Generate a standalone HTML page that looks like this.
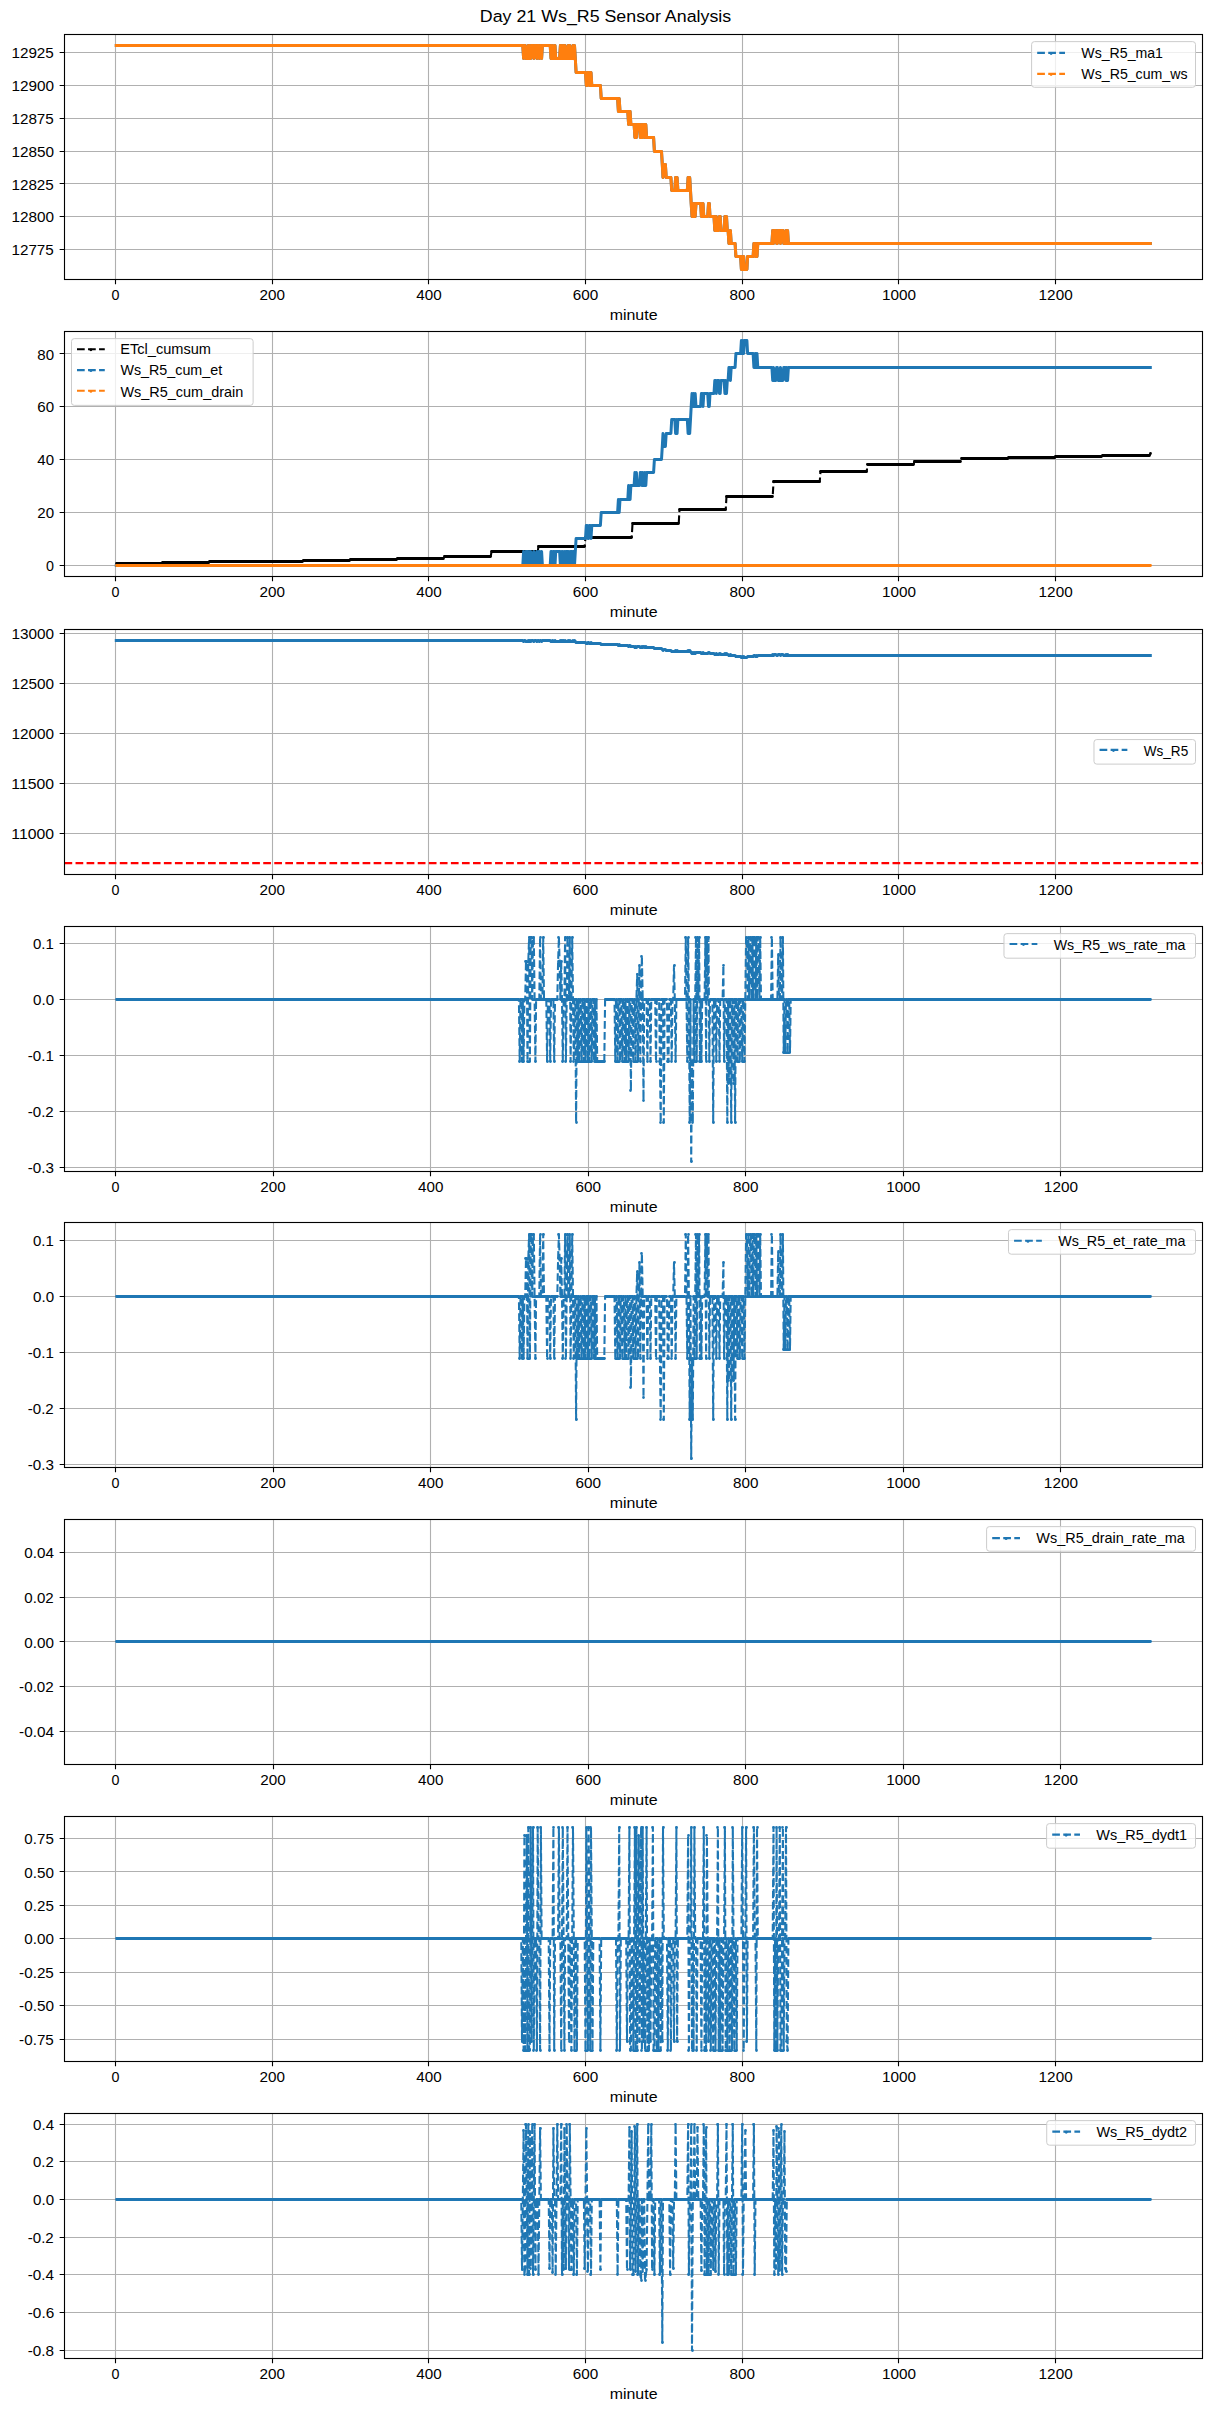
<!DOCTYPE html>
<html><head><meta charset="utf-8"><style>
html,body{margin:0;padding:0;background:#fff;}
svg{display:block;}
text{font-family:"Liberation Sans",sans-serif;}
</style></head><body>
<svg width="1211" height="2411" viewBox="0 0 1211 2411">
<rect width="1211" height="2411" fill="#fff"/>
<text x="479.80" y="22.30" font-size="16.9" textLength="251.39" lengthAdjust="spacingAndGlyphs" fill="#000">Day 21 Ws_R5 Sensor Analysis</text>
<clipPath id="c0"><rect x="64.5" y="34.5" width="1138.0" height="245.0"/></clipPath>
<path d="M115.5 34.5V279.5M272.5 34.5V279.5M428.5 34.5V279.5M585.5 34.5V279.5M742.5 34.5V279.5M898.5 34.5V279.5M1055.5 34.5V279.5M64.5 52.5H1202.5M64.5 85.5H1202.5M64.5 118.5H1202.5M64.5 151.5H1202.5M64.5 183.5H1202.5M64.5 216.5H1202.5M64.5 249.5H1202.5" stroke="#b0b0b0" stroke-width="1.11" fill="none"/>
<path d="M116.3 45.5L522.8 45.5 523.6 58.5 524.4 45.5 525.2 45.5 526.0 58.5 527.5 58.5 528.3 45.5 529.1 58.5 529.9 45.5 530.7 58.5 531.5 45.5 533.0 45.5 533.8 58.5 534.6 45.5 536.1 45.5 536.9 58.5 537.7 45.5 538.5 45.5 539.3 58.5 540.1 45.5 540.9 45.5 541.6 58.5 542.4 45.5 550.2 45.5 551.0 58.5 551.8 58.5 552.6 45.5 553.4 58.5 554.2 58.5 555.0 45.5 555.7 58.5 559.6 58.5 560.4 45.5 561.2 58.5 562.0 45.5 562.8 58.5 563.6 45.5 564.4 58.5 565.1 45.5 565.9 58.5 567.5 58.5 568.3 45.5 569.0 58.5 569.8 45.5 570.6 58.5 572.2 58.5 573.0 45.5 573.8 58.5 574.5 45.5 575.3 58.5 576.1 72.5 585.5 72.5 586.3 85.5 587.1 85.5 587.9 72.5 588.6 72.5 589.4 85.5 590.2 85.5 591.0 72.5 591.8 85.5 600.4 85.5 601.2 98.5 617.6 98.5 618.4 111.5 619.2 98.5 620.0 111.5 627.8 111.5 628.6 124.5 629.4 111.5 630.1 111.5 630.9 124.5 634.1 124.5 634.9 137.5 635.6 124.5 636.4 137.5 637.2 124.5 639.5 124.5 640.3 137.5 641.1 137.5 641.9 124.5 642.7 137.5 643.5 124.5 644.2 124.5 645.0 137.5 645.8 124.5 646.6 137.5 653.6 137.5 654.4 151.5 661.5 151.5 662.3 164.5 663.0 177.5 663.8 164.5 665.4 164.5 666.2 177.5 670.9 177.5 671.7 190.5 674.8 190.5 675.6 177.5 676.4 190.5 677.1 177.5 677.9 190.5 687.3 190.5 688.1 177.5 688.9 190.5 689.7 177.5 690.5 190.5 691.2 203.5 692.0 216.5 692.8 203.5 693.6 216.5 694.4 203.5 695.2 216.5 696.0 203.5 700.6 203.5 701.4 216.5 702.2 216.5 703.0 203.5 703.8 216.5 707.7 216.5 708.5 203.5 709.3 203.5 710.0 216.5 714.0 216.5 714.8 230.5 715.5 230.5 716.3 216.5 717.1 230.5 718.7 230.5 719.5 216.5 720.2 216.5 721.0 230.5 724.1 230.5 724.9 216.5 725.7 230.5 726.5 216.5 727.3 230.5 728.1 230.5 728.9 243.5 729.6 243.5 730.4 230.5 731.2 243.5 735.1 243.5 735.9 256.5 740.6 256.5 741.4 269.5 742.2 256.5 743.0 269.5 743.7 256.5 744.5 269.5 746.9 269.5 747.6 256.5 753.1 256.5 753.9 243.5 754.7 243.5 755.5 256.5 756.3 243.5 757.0 256.5 757.8 243.5 771.9 243.5 772.7 230.5 773.5 243.5 774.3 230.5 775.9 230.5 776.6 243.5 777.4 243.5 778.2 230.5 779.8 230.5 780.5 243.5 781.3 230.5 782.9 230.5 783.7 243.5 785.2 243.5 786.0 230.5 786.8 243.5 787.6 230.5 788.4 243.5 1150.3 243.5" stroke="#1f77b4" stroke-width="3.0" stroke-linejoin="round" stroke-linecap="square" fill="none" clip-path="url(#c0)"/>
<path d="M116.3 45.5L522.8 45.5 523.6 58.5 524.4 45.5 525.2 45.5 526.0 58.5 527.5 58.5 528.3 45.5 529.1 58.5 529.9 45.5 530.7 58.5 531.5 45.5 533.0 45.5 533.8 58.5 534.6 45.5 536.1 45.5 536.9 58.5 537.7 45.5 538.5 45.5 539.3 58.5 540.1 45.5 540.9 45.5 541.6 58.5 542.4 45.5 550.2 45.5 551.0 58.5 551.8 58.5 552.6 45.5 553.4 58.5 554.2 58.5 555.0 45.5 555.7 58.5 559.6 58.5 560.4 45.5 561.2 58.5 562.0 45.5 562.8 58.5 563.6 45.5 564.4 58.5 565.1 45.5 565.9 58.5 567.5 58.5 568.3 45.5 569.0 58.5 569.8 45.5 570.6 58.5 572.2 58.5 573.0 45.5 573.8 58.5 574.5 45.5 575.3 58.5 576.1 72.5 585.5 72.5 586.3 85.5 587.1 85.5 587.9 72.5 588.6 72.5 589.4 85.5 590.2 85.5 591.0 72.5 591.8 85.5 600.4 85.5 601.2 98.5 617.6 98.5 618.4 111.5 619.2 98.5 620.0 111.5 627.8 111.5 628.6 124.5 629.4 111.5 630.1 111.5 630.9 124.5 634.1 124.5 634.9 137.5 635.6 124.5 636.4 137.5 637.2 124.5 639.5 124.5 640.3 137.5 641.1 137.5 641.9 124.5 642.7 137.5 643.5 124.5 644.2 124.5 645.0 137.5 645.8 124.5 646.6 137.5 653.6 137.5 654.4 151.5 661.5 151.5 662.3 164.5 663.0 177.5 663.8 164.5 665.4 164.5 666.2 177.5 670.9 177.5 671.7 190.5 674.8 190.5 675.6 177.5 676.4 190.5 677.1 177.5 677.9 190.5 687.3 190.5 688.1 177.5 688.9 190.5 689.7 177.5 690.5 190.5 691.2 203.5 692.0 216.5 692.8 203.5 693.6 216.5 694.4 203.5 695.2 216.5 696.0 203.5 700.6 203.5 701.4 216.5 702.2 216.5 703.0 203.5 703.8 216.5 707.7 216.5 708.5 203.5 709.3 203.5 710.0 216.5 714.0 216.5 714.8 230.5 715.5 230.5 716.3 216.5 717.1 230.5 718.7 230.5 719.5 216.5 720.2 216.5 721.0 230.5 724.1 230.5 724.9 216.5 725.7 230.5 726.5 216.5 727.3 230.5 728.1 230.5 728.9 243.5 729.6 243.5 730.4 230.5 731.2 243.5 735.1 243.5 735.9 256.5 740.6 256.5 741.4 269.5 742.2 256.5 743.0 269.5 743.7 256.5 744.5 269.5 746.9 269.5 747.6 256.5 753.1 256.5 753.9 243.5 754.7 243.5 755.5 256.5 756.3 243.5 757.0 256.5 757.8 243.5 771.9 243.5 772.7 230.5 773.5 243.5 774.3 230.5 775.9 230.5 776.6 243.5 777.4 243.5 778.2 230.5 779.8 230.5 780.5 243.5 781.3 230.5 782.9 230.5 783.7 243.5 785.2 243.5 786.0 230.5 786.8 243.5 787.6 230.5 788.4 243.5 1150.3 243.5" stroke="#ff7f0e" stroke-width="3.0" stroke-linejoin="round" stroke-linecap="square" fill="none" clip-path="url(#c0)"/>
<rect x="64.5" y="34.5" width="1138.0" height="245.0" fill="none" stroke="#000" stroke-width="1.11"/>
<path d="M115.5 279.5v4.86M272.5 279.5v4.86M428.5 279.5v4.86M585.5 279.5v4.86M742.5 279.5v4.86M898.5 279.5v4.86M1055.5 279.5v4.86M64.5 52.5h-4.86M64.5 85.5h-4.86M64.5 118.5h-4.86M64.5 151.5h-4.86M64.5 183.5h-4.86M64.5 216.5h-4.86M64.5 249.5h-4.86" stroke="#000" stroke-width="1.11" fill="none"/>
<text x="111.62" y="299.90" font-size="14.1" textLength="7.96" lengthAdjust="spacingAndGlyphs" fill="#000">0</text>
<text x="259.50" y="299.90" font-size="14.1" textLength="25.44" lengthAdjust="spacingAndGlyphs" fill="#000">200</text>
<text x="416.25" y="299.90" font-size="14.1" textLength="25.36" lengthAdjust="spacingAndGlyphs" fill="#000">400</text>
<text x="572.80" y="299.90" font-size="14.1" textLength="25.48" lengthAdjust="spacingAndGlyphs" fill="#000">600</text>
<text x="729.55" y="299.90" font-size="14.1" textLength="25.39" lengthAdjust="spacingAndGlyphs" fill="#000">800</text>
<text x="881.97" y="299.90" font-size="14.1" textLength="34.01" lengthAdjust="spacingAndGlyphs" fill="#000">1000</text>
<text x="1038.64" y="299.90" font-size="14.1" textLength="34.01" lengthAdjust="spacingAndGlyphs" fill="#000">1200</text>
<text x="11.43" y="57.85" font-size="14.1" textLength="42.40" lengthAdjust="spacingAndGlyphs" fill="#000">12925</text>
<text x="11.43" y="90.77" font-size="14.1" textLength="42.64" lengthAdjust="spacingAndGlyphs" fill="#000">12900</text>
<text x="11.43" y="123.70" font-size="14.1" textLength="42.40" lengthAdjust="spacingAndGlyphs" fill="#000">12875</text>
<text x="11.43" y="156.62" font-size="14.1" textLength="42.64" lengthAdjust="spacingAndGlyphs" fill="#000">12850</text>
<text x="11.43" y="189.55" font-size="14.1" textLength="42.40" lengthAdjust="spacingAndGlyphs" fill="#000">12825</text>
<text x="11.43" y="222.47" font-size="14.1" textLength="42.64" lengthAdjust="spacingAndGlyphs" fill="#000">12800</text>
<text x="11.43" y="255.40" font-size="14.1" textLength="42.40" lengthAdjust="spacingAndGlyphs" fill="#000">12775</text>
<text x="609.69" y="319.80" font-size="14.1" textLength="47.81" lengthAdjust="spacingAndGlyphs" fill="#000">minute</text>
<rect x="1031.60" y="41.64" width="163.90" height="45.64" rx="2.8" ry="2.8" fill="#fff" fill-opacity="0.8" stroke="#cccccc" stroke-width="1.0"/>
<path d="M1037.20 52.90H1064.98" stroke="#1f77b4" stroke-width="2.083" stroke-dasharray="7.71 3.33" fill="none"/>
<circle cx="1051.09" cy="53.50" r="1.4" fill="#1f77b4"/>
<text x="1081.36" y="57.90" font-size="14.1" textLength="81.59" lengthAdjust="spacingAndGlyphs" fill="#000">Ws_R5_ma1</text>
<path d="M1037.20 73.90H1064.98" stroke="#ff7f0e" stroke-width="2.083" stroke-dasharray="7.71 3.33" fill="none"/>
<circle cx="1051.09" cy="74.50" r="1.4" fill="#ff7f0e"/>
<text x="1081.36" y="78.99" font-size="14.1" textLength="106.15" lengthAdjust="spacingAndGlyphs" fill="#000">Ws_R5_cum_ws</text>
<clipPath id="c1"><rect x="64.5" y="331.5" width="1138.0" height="245.0"/></clipPath>
<path d="M115.5 331.5V576.5M272.5 331.5V576.5M428.5 331.5V576.5M585.5 331.5V576.5M742.5 331.5V576.5M898.5 331.5V576.5M1055.5 331.5V576.5M64.5 353.5H1202.5M64.5 406.5H1202.5M64.5 459.5H1202.5M64.5 512.5H1202.5M64.5 565.5H1202.5" stroke="#b0b0b0" stroke-width="1.11" fill="none"/>
<path d="M116.3 563.4L161.7 563.4 162.5 562.8 208.7 562.8 209.5 561.7 255.7 561.7 256.5 561.1 302.7 561.1 303.5 560.1 349.7 560.1 350.5 559.2 396.7 559.2 397.5 558.3 443.7 558.3 444.5 556.2 490.7 556.2 491.5 552.0 537.7 552.0 538.5 546.1 584.7 546.1 585.5 537.2 631.7 537.2 632.5 524.0 678.7 524.0 679.5 509.7 725.7 509.7 726.5 496.5 772.7 496.5 773.5 482.0 819.7 482.0 820.5 471.7 866.7 471.7 867.5 464.0 913.7 464.0 914.5 461.1 960.7 461.1 961.5 458.7 1007.7 458.7 1008.5 458.0 1054.7 458.0 1055.5 456.4 1101.7 456.4 1102.5 455.1 1149.5 455.1 1150.3 453.7" stroke="#000000" stroke-width="2.083" stroke-dasharray="7.71 3.33" fill="none" stroke-linejoin="round" clip-path="url(#c1)"/>
<path d="M116.5 563.5H161.5M162.5 562.5H208.5M209.5 561.5H255.5M256.5 561.5H302.5M303.5 560.5H349.5M350.5 559.5H396.5M397.5 558.5H443.5M444.5 556.5H490.5M491.5 551.5H537.5M538.5 546.5H584.5M585.5 537.5H631.5M632.5 523.5H678.5M679.5 509.5H725.5M726.5 496.5H772.5M773.5 481.5H819.5M820.5 471.5H866.5M867.5 464.5H913.5M914.5 461.5H960.5M961.5 458.5H1007.5M1008.5 457.5H1054.5M1055.5 456.5H1101.5M1102.5 455.5H1149.5M1150.5 453.5h0" stroke="#000000" stroke-width="2.8" stroke-linecap="round" fill="none" clip-path="url(#c1)"/>
<path d="M116.3 565.5L522.8 565.5 523.6 551.5 524.4 565.5 525.2 565.5 526.0 551.5 527.5 551.5 528.3 565.5 529.1 551.5 529.9 565.5 530.7 551.5 531.5 565.5 533.0 565.5 533.8 551.5 534.6 565.5 536.1 565.5 536.9 551.5 537.7 565.5 538.5 565.5 539.3 551.5 540.1 565.5 540.9 565.5 541.6 551.5 542.4 565.5 550.2 565.5 551.0 551.5 551.8 551.5 552.6 565.5 553.4 551.5 554.2 551.5 555.0 565.5 555.7 551.5 559.6 551.5 560.4 565.5 561.2 551.5 562.0 565.5 562.8 551.5 563.6 565.5 564.4 551.5 565.1 565.5 565.9 551.5 567.5 551.5 568.3 565.5 569.0 551.5 569.8 565.5 570.6 551.5 572.2 551.5 573.0 565.5 573.8 551.5 574.5 565.5 575.3 551.5 576.1 538.5 585.5 538.5 586.3 525.5 587.1 525.5 587.9 538.5 588.6 538.5 589.4 525.5 590.2 525.5 591.0 538.5 591.8 525.5 600.4 525.5 601.2 512.5 617.6 512.5 618.4 499.5 619.2 512.5 620.0 499.5 627.8 499.5 628.6 485.5 629.4 499.5 630.1 499.5 630.9 485.5 634.1 485.5 634.9 472.5 635.6 485.5 636.4 472.5 637.2 485.5 639.5 485.5 640.3 472.5 641.1 472.5 641.9 485.5 642.7 472.5 643.5 485.5 644.2 485.5 645.0 472.5 645.8 485.5 646.6 472.5 653.6 472.5 654.4 459.5 661.5 459.5 662.3 446.5 663.0 433.5 663.8 446.5 665.4 446.5 666.2 433.5 670.9 433.5 671.7 419.5 674.8 419.5 675.6 433.5 676.4 419.5 677.1 433.5 677.9 419.5 687.3 419.5 688.1 433.5 688.9 419.5 689.7 433.5 690.5 419.5 691.2 406.5 692.0 393.5 692.8 406.5 693.6 393.5 694.4 406.5 695.2 393.5 696.0 406.5 700.6 406.5 701.4 393.5 702.2 393.5 703.0 406.5 703.8 393.5 707.7 393.5 708.5 406.5 709.3 406.5 710.0 393.5 714.0 393.5 714.8 380.5 715.5 380.5 716.3 393.5 717.1 380.5 718.7 380.5 719.5 393.5 720.2 393.5 721.0 380.5 724.1 380.5 724.9 393.5 725.7 380.5 726.5 393.5 727.3 380.5 728.1 380.5 728.9 367.5 729.6 367.5 730.4 380.5 731.2 367.5 735.1 367.5 735.9 353.5 740.6 353.5 741.4 340.5 742.2 353.5 743.0 340.5 743.7 353.5 744.5 340.5 746.9 340.5 747.6 353.5 753.1 353.5 753.9 367.5 754.7 367.5 755.5 353.5 756.3 367.5 757.0 353.5 757.8 367.5 771.9 367.5 772.7 380.5 773.5 367.5 774.3 380.5 775.9 380.5 776.6 367.5 777.4 367.5 778.2 380.5 779.8 380.5 780.5 367.5 781.3 380.5 782.9 380.5 783.7 367.5 785.2 367.5 786.0 380.5 786.8 367.5 787.6 380.5 788.4 367.5 1150.3 367.5" stroke="#1f77b4" stroke-width="3.0" stroke-linejoin="round" stroke-linecap="square" fill="none" clip-path="url(#c1)"/>
<path d="M116.3 565.2L1150.3 565.2" stroke="#ff7f0e" stroke-width="2.083" stroke-dasharray="7.71 3.33" fill="none" stroke-linejoin="round" clip-path="url(#c1)"/>
<path d="M116.5 565.5H1150.5" stroke="#ff7f0e" stroke-width="2.8" stroke-linecap="round" fill="none" clip-path="url(#c1)"/>
<rect x="64.5" y="331.5" width="1138.0" height="245.0" fill="none" stroke="#000" stroke-width="1.11"/>
<path d="M115.5 576.5v4.86M272.5 576.5v4.86M428.5 576.5v4.86M585.5 576.5v4.86M742.5 576.5v4.86M898.5 576.5v4.86M1055.5 576.5v4.86M64.5 353.5h-4.86M64.5 406.5h-4.86M64.5 459.5h-4.86M64.5 512.5h-4.86M64.5 565.5h-4.86" stroke="#000" stroke-width="1.11" fill="none"/>
<text x="111.62" y="596.90" font-size="14.1" textLength="7.96" lengthAdjust="spacingAndGlyphs" fill="#000">0</text>
<text x="259.50" y="596.90" font-size="14.1" textLength="25.44" lengthAdjust="spacingAndGlyphs" fill="#000">200</text>
<text x="416.25" y="596.90" font-size="14.1" textLength="25.36" lengthAdjust="spacingAndGlyphs" fill="#000">400</text>
<text x="572.80" y="596.90" font-size="14.1" textLength="25.48" lengthAdjust="spacingAndGlyphs" fill="#000">600</text>
<text x="729.55" y="596.90" font-size="14.1" textLength="25.39" lengthAdjust="spacingAndGlyphs" fill="#000">800</text>
<text x="881.97" y="596.90" font-size="14.1" textLength="34.01" lengthAdjust="spacingAndGlyphs" fill="#000">1000</text>
<text x="1038.64" y="596.90" font-size="14.1" textLength="34.01" lengthAdjust="spacingAndGlyphs" fill="#000">1200</text>
<text x="37.34" y="359.52" font-size="14.1" textLength="16.76" lengthAdjust="spacingAndGlyphs" fill="#000">80</text>
<text x="37.26" y="412.33" font-size="14.1" textLength="16.84" lengthAdjust="spacingAndGlyphs" fill="#000">60</text>
<text x="37.37" y="465.14" font-size="14.1" textLength="16.73" lengthAdjust="spacingAndGlyphs" fill="#000">40</text>
<text x="37.29" y="517.95" font-size="14.1" textLength="16.81" lengthAdjust="spacingAndGlyphs" fill="#000">20</text>
<text x="46.07" y="570.76" font-size="14.1" textLength="7.96" lengthAdjust="spacingAndGlyphs" fill="#000">0</text>
<text x="609.69" y="616.80" font-size="14.1" textLength="47.81" lengthAdjust="spacingAndGlyphs" fill="#000">minute</text>
<rect x="71.50" y="338.64" width="181.62" height="66.72" rx="2.8" ry="2.8" fill="#fff" fill-opacity="0.8" stroke="#cccccc" stroke-width="1.0"/>
<path d="M77.00 349.20H104.78" stroke="#000000" stroke-width="2.083" stroke-dasharray="7.71 3.33" fill="none"/>
<circle cx="90.89" cy="349.80" r="1.4" fill="#000000"/>
<text x="120.25" y="354.35" font-size="14.1" textLength="90.71" lengthAdjust="spacingAndGlyphs" fill="#000">ETcl_cumsum</text>
<path d="M77.00 370.10H104.78" stroke="#1f77b4" stroke-width="2.083" stroke-dasharray="7.71 3.33" fill="none"/>
<circle cx="90.89" cy="370.70" r="1.4" fill="#1f77b4"/>
<text x="120.48" y="375.44" font-size="14.1" textLength="101.64" lengthAdjust="spacingAndGlyphs" fill="#000">Ws_R5_cum_et</text>
<path d="M77.00 390.80H104.78" stroke="#ff7f0e" stroke-width="2.083" stroke-dasharray="7.71 3.33" fill="none"/>
<circle cx="90.89" cy="391.40" r="1.4" fill="#ff7f0e"/>
<text x="120.48" y="396.52" font-size="14.1" textLength="122.85" lengthAdjust="spacingAndGlyphs" fill="#000">Ws_R5_cum_drain</text>
<clipPath id="c2"><rect x="64.5" y="629.5" width="1138.0" height="245.0"/></clipPath>
<path d="M115.5 629.5V874.5M272.5 629.5V874.5M428.5 629.5V874.5M585.5 629.5V874.5M742.5 629.5V874.5M898.5 629.5V874.5M1055.5 629.5V874.5M64.5 633.5H1202.5M64.5 683.5H1202.5M64.5 733.5H1202.5M64.5 783.5H1202.5M64.5 833.5H1202.5" stroke="#b0b0b0" stroke-width="1.11" fill="none"/>
<path d="M116.3 640.5L522.8 640.5 523.6 641.5 524.4 640.5 525.2 640.5 526.0 641.5 527.5 641.5 528.3 640.5 529.1 641.5 529.9 640.5 530.7 641.5 531.5 640.5 533.0 640.5 533.8 641.5 534.6 640.5 536.1 640.5 536.9 641.5 537.7 640.5 538.5 640.5 539.3 641.5 540.1 640.5 540.9 640.5 541.6 641.5 542.4 640.5 550.2 640.5 551.0 641.5 551.8 641.5 552.6 640.5 553.4 641.5 554.2 641.5 555.0 640.5 555.7 641.5 559.6 641.5 560.4 640.5 561.2 641.5 562.0 640.5 562.8 641.5 563.6 640.5 564.4 641.5 565.1 640.5 565.9 641.5 567.5 641.5 568.3 640.5 569.0 641.5 569.8 640.5 570.6 641.5 572.2 641.5 573.0 640.5 573.8 641.5 574.5 640.5 575.3 641.5 576.1 642.5 585.5 642.5 586.3 643.5 587.1 643.5 587.9 642.5 588.6 642.5 589.4 643.5 590.2 643.5 591.0 642.5 591.8 643.5 600.4 643.5 601.2 644.5 617.6 644.5 618.4 645.5 619.2 644.5 620.0 645.5 627.8 645.5 628.6 646.5 629.4 645.5 630.1 645.5 630.9 646.5 634.1 646.5 634.9 647.5 635.6 646.5 636.4 647.5 637.2 646.5 639.5 646.5 640.3 647.5 641.1 647.5 641.9 646.5 642.7 647.5 643.5 646.5 644.2 646.5 645.0 647.5 645.8 646.5 646.6 647.5 653.6 647.5 654.4 648.5 661.5 648.5 662.3 649.5 663.0 650.5 663.8 649.5 665.4 649.5 666.2 650.5 670.9 650.5 671.7 651.5 674.8 651.5 675.6 650.5 676.4 651.5 677.1 650.5 677.9 651.5 687.3 651.5 688.1 650.5 688.9 651.5 689.7 650.5 690.5 651.5 691.2 652.5 692.0 653.5 692.8 652.5 693.6 653.5 694.4 652.5 695.2 653.5 696.0 652.5 700.6 652.5 701.4 653.5 702.2 653.5 703.0 652.5 703.8 653.5 707.7 653.5 708.5 652.5 709.3 652.5 710.0 653.5 714.0 653.5 714.8 654.5 715.5 654.5 716.3 653.5 717.1 654.5 718.7 654.5 719.5 653.5 720.2 653.5 721.0 654.5 724.1 654.5 724.9 653.5 725.7 654.5 726.5 653.5 727.3 654.5 728.1 654.5 728.9 655.5 729.6 655.5 730.4 654.5 731.2 655.5 735.1 655.5 735.9 656.5 740.6 656.5 741.4 657.5 742.2 656.5 743.0 657.5 743.7 656.5 744.5 657.5 746.9 657.5 747.6 656.5 753.1 656.5 753.9 655.5 754.7 655.5 755.5 656.5 756.3 655.5 757.0 656.5 757.8 655.5 771.9 655.5 772.7 654.5 773.5 655.5 774.3 654.5 775.9 654.5 776.6 655.5 777.4 655.5 778.2 654.5 779.8 654.5 780.5 655.5 781.3 654.5 782.9 654.5 783.7 655.5 785.2 655.5 786.0 654.5 786.8 655.5 787.6 654.5 788.4 655.5 1150.3 655.5" stroke="#1f77b4" stroke-width="3.0" stroke-linejoin="round" stroke-linecap="square" fill="none" clip-path="url(#c2)"/>
<path d="M64.5 863.11H1202.5" stroke="#ff0000" stroke-width="2.083" stroke-dasharray="7.71 3.33" fill="none" clip-path="url(#c2)"/>
<rect x="64.5" y="629.5" width="1138.0" height="245.0" fill="none" stroke="#000" stroke-width="1.11"/>
<path d="M115.5 874.5v4.86M272.5 874.5v4.86M428.5 874.5v4.86M585.5 874.5v4.86M742.5 874.5v4.86M898.5 874.5v4.86M1055.5 874.5v4.86M64.5 633.5h-4.86M64.5 683.5h-4.86M64.5 733.5h-4.86M64.5 783.5h-4.86M64.5 833.5h-4.86" stroke="#000" stroke-width="1.11" fill="none"/>
<text x="111.62" y="894.90" font-size="14.1" textLength="7.96" lengthAdjust="spacingAndGlyphs" fill="#000">0</text>
<text x="259.50" y="894.90" font-size="14.1" textLength="25.44" lengthAdjust="spacingAndGlyphs" fill="#000">200</text>
<text x="416.25" y="894.90" font-size="14.1" textLength="25.36" lengthAdjust="spacingAndGlyphs" fill="#000">400</text>
<text x="572.80" y="894.90" font-size="14.1" textLength="25.48" lengthAdjust="spacingAndGlyphs" fill="#000">600</text>
<text x="729.55" y="894.90" font-size="14.1" textLength="25.39" lengthAdjust="spacingAndGlyphs" fill="#000">800</text>
<text x="881.97" y="894.90" font-size="14.1" textLength="34.01" lengthAdjust="spacingAndGlyphs" fill="#000">1000</text>
<text x="1038.64" y="894.90" font-size="14.1" textLength="34.01" lengthAdjust="spacingAndGlyphs" fill="#000">1200</text>
<text x="11.43" y="638.96" font-size="14.1" textLength="42.64" lengthAdjust="spacingAndGlyphs" fill="#000">13000</text>
<text x="11.43" y="688.97" font-size="14.1" textLength="42.64" lengthAdjust="spacingAndGlyphs" fill="#000">12500</text>
<text x="11.43" y="738.98" font-size="14.1" textLength="42.64" lengthAdjust="spacingAndGlyphs" fill="#000">12000</text>
<text x="11.39" y="788.99" font-size="14.1" textLength="42.70" lengthAdjust="spacingAndGlyphs" fill="#000">11500</text>
<text x="11.39" y="839.00" font-size="14.1" textLength="42.70" lengthAdjust="spacingAndGlyphs" fill="#000">11000</text>
<text x="609.69" y="914.80" font-size="14.1" textLength="47.81" lengthAdjust="spacingAndGlyphs" fill="#000">minute</text>
<rect x="1093.97" y="739.57" width="101.53" height="24.55" rx="2.8" ry="2.8" fill="#fff" fill-opacity="0.8" stroke="#cccccc" stroke-width="1.0"/>
<path d="M1099.57 749.90H1127.35" stroke="#1f77b4" stroke-width="2.083" stroke-dasharray="7.71 3.33" fill="none"/>
<circle cx="1113.46" cy="750.50" r="1.4" fill="#1f77b4"/>
<text x="1143.73" y="755.83" font-size="14.1" textLength="44.48" lengthAdjust="spacingAndGlyphs" fill="#000">Ws_R5</text>
<clipPath id="c3"><rect x="64.5" y="926.5" width="1138.0" height="245.0"/></clipPath>
<path d="M115.5 926.5V1171.5M273.5 926.5V1171.5M430.5 926.5V1171.5M588.5 926.5V1171.5M745.5 926.5V1171.5M903.5 926.5V1171.5M1060.5 926.5V1171.5M64.5 943.5H1202.5M64.5 999.5H1202.5M64.5 1055.5H1202.5M64.5 1111.5H1202.5M64.5 1167.5H1202.5" stroke="#b0b0b0" stroke-width="1.11" fill="none"/>
<path d="M116.3 999.3L518.9 999.3 519.7 1061.4 520.5 999.3 521.3 999.3 522.0 1061.4 522.8 999.3 523.6 1061.4 524.4 999.3 525.2 999.3 526.0 961.8 526.8 961.8 527.5 1061.4 528.3 961.8 529.1 937.2 529.9 1061.4 530.7 937.2 531.5 937.2 532.2 999.3 533.0 937.2 533.8 937.2 534.6 999.3 535.4 1061.4 536.1 999.3 539.3 999.3 540.1 937.2 540.9 999.3 542.4 999.3 543.2 937.2 544.0 999.3 546.3 999.3 547.1 1061.4 547.9 999.3 549.5 999.3 550.2 1061.4 551.0 999.3 553.4 999.3 554.2 1061.4 555.0 999.3 557.3 999.3 558.1 961.8 558.9 937.2 559.6 961.8 560.4 999.3 561.2 961.8 562.0 999.3 562.8 1061.4 563.6 999.3 564.4 999.3 565.1 937.2 565.9 1061.4 566.7 999.3 567.5 937.2 568.3 999.3 569.0 999.3 569.8 937.2 570.6 1061.4 571.4 999.3 572.2 937.2 573.0 999.3 573.8 1061.4 574.5 999.3 575.3 999.3 576.1 1122.4 576.9 999.3 577.7 1061.4 578.5 999.3 579.2 1061.4 580.0 999.3 580.8 999.3 581.6 1061.4 582.4 999.3 583.1 999.3 583.9 1061.4 584.7 999.3 585.5 1061.4 586.3 999.3 587.1 999.3 587.9 1061.4 588.6 999.3 589.4 1061.4 590.2 999.3 591.0 999.3 591.8 1061.4 592.5 999.3 593.3 999.3 594.1 1061.4 594.9 999.3 595.7 1061.4 596.5 999.3 597.2 1061.4 604.3 1061.4 605.1 999.3 614.5 999.3 615.3 1061.4 616.0 999.3 616.8 999.3 617.6 1061.4 618.4 999.3 619.2 999.3 620.0 1061.4 620.8 999.3 621.5 999.3 622.3 1061.4 623.1 999.3 623.9 999.3 624.7 1061.4 625.5 999.3 626.2 1061.4 627.0 999.3 627.8 999.3 628.6 1061.4 629.4 999.3 630.1 999.3 630.9 1090.5 631.7 999.3 632.5 999.3 633.3 1061.4 634.1 999.3 634.9 999.3 635.6 1061.4 636.4 999.3 637.2 974.1 638.0 1061.4 638.8 999.3 639.5 965.7 640.3 1061.4 641.1 999.3 641.9 956.2 642.7 999.3 643.5 1100.0 644.2 999.3 646.6 999.3 647.4 1061.4 648.2 999.3 649.7 999.3 650.5 1061.4 651.3 999.3 655.2 999.3 656.0 1061.4 656.8 999.3 659.1 999.3 659.9 1061.4 660.7 1122.4 661.5 999.3 663.0 999.3 663.8 1122.4 664.6 999.3 667.0 999.3 667.8 1061.4 668.5 1061.4 669.3 999.3 670.9 999.3 671.7 1061.4 672.5 999.3 673.2 999.3 674.0 965.7 674.8 999.3 675.6 1061.4 676.4 999.3 685.0 999.3 685.8 937.2 686.5 999.3 687.3 1061.4 688.1 937.2 688.9 999.3 689.7 1122.4 690.5 999.3 691.2 1161.6 692.0 1061.4 692.8 1122.4 693.6 999.3 694.4 1061.4 695.2 999.3 696.0 937.2 696.7 1061.4 697.5 937.2 698.3 999.3 699.1 937.2 699.9 1061.4 700.6 999.3 701.4 1061.4 702.2 999.3 704.6 999.3 705.4 937.2 706.1 1061.4 706.9 937.2 707.7 999.3 708.5 937.2 709.3 1061.4 710.0 999.3 712.4 999.3 713.2 1122.4 714.0 999.3 715.5 999.3 716.3 1061.4 717.1 999.3 718.7 999.3 719.5 1061.4 720.2 999.3 722.6 999.3 723.4 965.7 724.1 1061.4 724.9 999.3 726.5 999.3 727.3 1122.4 728.1 999.3 728.9 1083.2 729.6 999.3 730.4 999.3 731.2 1122.4 732.0 999.3 732.8 999.3 733.5 1083.2 734.3 999.3 735.1 1122.4 735.9 999.3 736.7 999.3 737.5 1061.4 738.2 999.3 739.0 999.3 739.8 1061.4 740.6 999.3 741.4 999.3 742.2 1061.4 743.0 999.3 743.7 999.3 744.5 1061.4 745.3 999.3 746.1 937.2 746.9 937.2 747.6 999.3 748.4 937.2 749.2 999.3 750.0 937.2 750.8 937.2 751.6 999.3 752.4 937.2 753.1 999.3 753.9 937.2 754.7 937.2 755.5 999.3 756.3 937.2 757.0 999.3 757.8 937.2 758.6 937.2 759.4 999.3 760.2 937.2 761.0 999.3 771.1 999.3 771.9 937.2 772.7 999.3 777.4 999.3 778.2 954.5 779.0 999.3 779.8 999.3 780.5 937.2 781.3 999.3 782.1 999.3 782.9 937.2 783.7 1052.5 784.5 999.3 785.2 1052.5 786.0 999.3 786.8 999.3 787.6 1052.5 788.4 999.3 789.2 999.3 790.0 1052.5 790.7 999.3 1150.3 999.3" stroke="#1f77b4" stroke-width="2.083" stroke-dasharray="7.71 3.33" fill="none" stroke-linejoin="round" clip-path="url(#c3)"/>
<path d="M116.5 999.5H518.5M519.5 1061.5h0M520.5 999.5H521.5M522.5 1061.5h0M522.5 999.5h0M523.5 1061.5h0M524.5 999.5H525.5M525.5 961.5H526.5M527.5 1061.5h0M528.5 961.5h0M529.5 937.5h0M529.5 1061.5h0M530.5 937.5H531.5M532.5 999.5h0M533.5 937.5H533.5M534.5 999.5h0M535.5 1061.5h0M536.5 999.5H539.5M540.5 937.5h0M540.5 999.5H542.5M543.5 937.5h0M543.5 999.5H546.5M547.5 1061.5h0M547.5 999.5H549.5M550.5 1061.5h0M551.5 999.5H553.5M554.5 1061.5h0M554.5 999.5H557.5M558.5 961.5h0M558.5 937.5h0M559.5 961.5h0M560.5 999.5h0M561.5 961.5h0M562.5 999.5h0M562.5 1061.5h0M563.5 999.5H564.5M565.5 937.5h0M565.5 1061.5h0M566.5 999.5h0M567.5 937.5h0M568.5 999.5H569.5M569.5 937.5h0M570.5 1061.5h0M571.5 999.5h0M572.5 937.5h0M572.5 999.5h0M573.5 1061.5h0M574.5 999.5H575.5M576.5 1122.5h0M576.5 999.5h0M577.5 1061.5h0M578.5 999.5h0M579.5 1061.5h0M580.5 999.5H580.5M581.5 1061.5h0M582.5 999.5H583.5M583.5 1061.5h0M584.5 999.5h0M585.5 1061.5h0M586.5 999.5H587.5M587.5 1061.5h0M588.5 999.5h0M589.5 1061.5h0M590.5 999.5H590.5M591.5 1061.5h0M592.5 999.5H593.5M594.5 1061.5h0M594.5 999.5h0M595.5 1061.5h0M596.5 999.5h0M597.5 1061.5H604.5M605.5 999.5H614.5M615.5 1061.5h0M616.5 999.5H616.5M617.5 1061.5h0M618.5 999.5H619.5M619.5 1061.5h0M620.5 999.5H621.5M622.5 1061.5h0M623.5 999.5H623.5M624.5 1061.5h0M625.5 999.5h0M626.5 1061.5h0M627.5 999.5H627.5M628.5 1061.5h0M629.5 999.5H630.5M630.5 1090.5h0M631.5 999.5H632.5M633.5 1061.5h0M634.5 999.5H634.5M635.5 1061.5h0M636.5 999.5h0M637.5 974.5h0M637.5 1061.5h0M638.5 999.5h0M639.5 965.5h0M640.5 1061.5h0M641.5 999.5h0M641.5 956.5h0M642.5 999.5h0M643.5 1100.5h0M644.5 999.5H646.5M647.5 1061.5h0M648.5 999.5H649.5M650.5 1061.5h0M651.5 999.5H655.5M656.5 1061.5h0M656.5 999.5H659.5M659.5 1061.5h0M660.5 1122.5h0M661.5 999.5H663.5M663.5 1122.5h0M664.5 999.5H666.5M667.5 1061.5H668.5M669.5 999.5H670.5M671.5 1061.5h0M672.5 999.5H673.5M674.5 965.5h0M674.5 999.5h0M675.5 1061.5h0M676.5 999.5H684.5M685.5 937.5h0M686.5 999.5h0M687.5 1061.5h0M688.5 937.5h0M688.5 999.5h0M689.5 1122.5h0M690.5 999.5h0M691.5 1161.5h0M692.5 1061.5h0M692.5 1122.5h0M693.5 999.5h0M694.5 1061.5h0M695.5 999.5h0M695.5 937.5h0M696.5 1061.5h0M697.5 937.5h0M698.5 999.5h0M699.5 937.5h0M699.5 1061.5h0M700.5 999.5h0M701.5 1061.5h0M702.5 999.5H704.5M705.5 937.5h0M706.5 1061.5h0M706.5 937.5h0M707.5 999.5h0M708.5 937.5h0M709.5 1061.5h0M710.5 999.5H712.5M713.5 1122.5h0M713.5 999.5H715.5M716.5 1061.5h0M717.5 999.5H718.5M719.5 1061.5h0M720.5 999.5H722.5M723.5 965.5h0M724.5 1061.5h0M724.5 999.5H726.5M727.5 1122.5h0M728.5 999.5h0M728.5 1083.5h0M729.5 999.5H730.5M731.5 1122.5h0M731.5 999.5H732.5M733.5 1083.5h0M734.5 999.5h0M735.5 1122.5h0M735.5 999.5H736.5M737.5 1061.5h0M738.5 999.5H739.5M739.5 1061.5h0M740.5 999.5H741.5M742.5 1061.5h0M742.5 999.5H743.5M744.5 1061.5h0M745.5 999.5h0M746.5 937.5H746.5M747.5 999.5h0M748.5 937.5h0M749.5 999.5h0M750.5 937.5H750.5M751.5 999.5h0M752.5 937.5h0M753.5 999.5h0M753.5 937.5H754.5M755.5 999.5h0M756.5 937.5h0M757.5 999.5h0M757.5 937.5H758.5M759.5 999.5h0M760.5 937.5h0M760.5 999.5H771.5M771.5 937.5h0M772.5 999.5H777.5M778.5 954.5h0M778.5 999.5H779.5M780.5 937.5h0M781.5 999.5H782.5M782.5 937.5h0M783.5 1052.5h0M784.5 999.5h0M785.5 1052.5h0M786.5 999.5H786.5M787.5 1052.5h0M788.5 999.5H789.5M789.5 1052.5h0M790.5 999.5H1150.5" stroke="#1f77b4" stroke-width="2.8" stroke-linecap="round" fill="none" clip-path="url(#c3)"/>
<rect x="64.5" y="926.5" width="1138.0" height="245.0" fill="none" stroke="#000" stroke-width="1.11"/>
<path d="M115.5 1171.5v4.86M273.5 1171.5v4.86M430.5 1171.5v4.86M588.5 1171.5v4.86M745.5 1171.5v4.86M903.5 1171.5v4.86M1060.5 1171.5v4.86M64.5 943.5h-4.86M64.5 999.5h-4.86M64.5 1055.5h-4.86M64.5 1111.5h-4.86M64.5 1167.5h-4.86" stroke="#000" stroke-width="1.11" fill="none"/>
<text x="111.62" y="1191.90" font-size="14.1" textLength="7.96" lengthAdjust="spacingAndGlyphs" fill="#000">0</text>
<text x="260.38" y="1191.90" font-size="14.1" textLength="25.44" lengthAdjust="spacingAndGlyphs" fill="#000">200</text>
<text x="417.99" y="1191.90" font-size="14.1" textLength="25.36" lengthAdjust="spacingAndGlyphs" fill="#000">400</text>
<text x="575.42" y="1191.90" font-size="14.1" textLength="25.48" lengthAdjust="spacingAndGlyphs" fill="#000">600</text>
<text x="733.04" y="1191.90" font-size="14.1" textLength="25.39" lengthAdjust="spacingAndGlyphs" fill="#000">800</text>
<text x="886.34" y="1191.90" font-size="14.1" textLength="34.01" lengthAdjust="spacingAndGlyphs" fill="#000">1000</text>
<text x="1043.88" y="1191.90" font-size="14.1" textLength="34.01" lengthAdjust="spacingAndGlyphs" fill="#000">1200</text>
<text x="33.05" y="948.96" font-size="14.1" textLength="20.81" lengthAdjust="spacingAndGlyphs" fill="#000">0.1</text>
<text x="33.05" y="1004.91" font-size="14.1" textLength="21.01" lengthAdjust="spacingAndGlyphs" fill="#000">0.0</text>
<text x="27.78" y="1060.86" font-size="14.1" textLength="26.08" lengthAdjust="spacingAndGlyphs" fill="#000">-0.1</text>
<text x="27.78" y="1116.81" font-size="14.1" textLength="25.97" lengthAdjust="spacingAndGlyphs" fill="#000">-0.2</text>
<text x="27.78" y="1172.76" font-size="14.1" textLength="26.18" lengthAdjust="spacingAndGlyphs" fill="#000">-0.3</text>
<text x="609.69" y="1211.80" font-size="14.1" textLength="47.81" lengthAdjust="spacingAndGlyphs" fill="#000">minute</text>
<rect x="1003.97" y="933.64" width="191.53" height="24.55" rx="2.8" ry="2.8" fill="#fff" fill-opacity="0.8" stroke="#cccccc" stroke-width="1.0"/>
<path d="M1009.57 944.00H1037.35" stroke="#1f77b4" stroke-width="2.083" stroke-dasharray="7.71 3.33" fill="none"/>
<circle cx="1023.46" cy="944.60" r="1.4" fill="#1f77b4"/>
<text x="1053.73" y="949.90" font-size="14.1" textLength="131.75" lengthAdjust="spacingAndGlyphs" fill="#000">Ws_R5_ws_rate_ma</text>
<clipPath id="c4"><rect x="64.5" y="1222.5" width="1138.0" height="245.0"/></clipPath>
<path d="M115.5 1222.5V1467.5M273.5 1222.5V1467.5M430.5 1222.5V1467.5M588.5 1222.5V1467.5M745.5 1222.5V1467.5M903.5 1222.5V1467.5M1060.5 1222.5V1467.5M64.5 1240.5H1202.5M64.5 1296.5H1202.5M64.5 1352.5H1202.5M64.5 1408.5H1202.5M64.5 1464.5H1202.5" stroke="#b0b0b0" stroke-width="1.11" fill="none"/>
<path d="M116.3 1296.4L518.9 1296.4 519.7 1358.6 520.5 1296.4 521.3 1296.4 522.0 1358.6 522.8 1296.4 523.6 1358.6 524.4 1296.4 525.2 1296.4 526.0 1258.9 526.8 1258.9 527.5 1358.6 528.3 1258.9 529.1 1234.2 529.9 1358.6 530.7 1234.2 531.5 1234.2 532.2 1296.4 533.0 1234.2 533.8 1234.2 534.6 1296.4 535.4 1358.6 536.1 1296.4 539.3 1296.4 540.1 1234.2 540.9 1296.4 542.4 1296.4 543.2 1234.2 544.0 1296.4 546.3 1296.4 547.1 1358.6 547.9 1296.4 549.5 1296.4 550.2 1358.6 551.0 1296.4 553.4 1296.4 554.2 1358.6 555.0 1296.4 557.3 1296.4 558.1 1258.9 558.9 1234.2 559.6 1258.9 560.4 1296.4 561.2 1258.9 562.0 1296.4 562.8 1358.6 563.6 1296.4 564.4 1296.4 565.1 1234.2 565.9 1358.6 566.7 1296.4 567.5 1234.2 568.3 1296.4 569.0 1296.4 569.8 1234.2 570.6 1358.6 571.4 1296.4 572.2 1234.2 573.0 1296.4 573.8 1358.6 574.5 1296.4 575.3 1296.4 576.1 1419.7 576.9 1296.4 577.7 1358.6 578.5 1296.4 579.2 1358.6 580.0 1296.4 580.8 1296.4 581.6 1358.6 582.4 1296.4 583.1 1296.4 583.9 1358.6 584.7 1296.4 585.5 1358.6 586.3 1296.4 587.1 1296.4 587.9 1358.6 588.6 1296.4 589.4 1358.6 590.2 1296.4 591.0 1296.4 591.8 1358.6 592.5 1296.4 593.3 1296.4 594.1 1358.6 594.9 1296.4 595.7 1358.6 596.5 1296.4 597.2 1358.6 604.3 1358.6 605.1 1296.4 614.5 1296.4 615.3 1358.6 616.0 1296.4 616.8 1296.4 617.6 1358.6 618.4 1296.4 619.2 1296.4 620.0 1358.6 620.8 1296.4 621.5 1296.4 622.3 1358.6 623.1 1296.4 623.9 1296.4 624.7 1358.6 625.5 1296.4 626.2 1358.6 627.0 1296.4 627.8 1296.4 628.6 1358.6 629.4 1296.4 630.1 1296.4 630.9 1387.8 631.7 1296.4 632.5 1296.4 633.3 1358.6 634.1 1296.4 634.9 1296.4 635.6 1358.6 636.4 1296.4 637.2 1271.2 638.0 1358.6 638.8 1296.4 639.5 1262.8 640.3 1358.6 641.1 1296.4 641.9 1253.3 642.7 1296.4 643.5 1397.3 644.2 1296.4 646.6 1296.4 647.4 1358.6 648.2 1296.4 649.7 1296.4 650.5 1358.6 651.3 1296.4 655.2 1296.4 656.0 1358.6 656.8 1296.4 659.1 1296.4 659.9 1358.6 660.7 1419.7 661.5 1296.4 663.0 1296.4 663.8 1419.7 664.6 1296.4 667.0 1296.4 667.8 1358.6 668.5 1358.6 669.3 1296.4 670.9 1296.4 671.7 1358.6 672.5 1296.4 673.2 1296.4 674.0 1262.8 674.8 1296.4 675.6 1358.6 676.4 1296.4 685.0 1296.4 685.8 1234.2 686.5 1296.4 687.3 1358.6 688.1 1234.2 688.9 1296.4 689.7 1419.7 690.5 1296.4 691.2 1458.9 692.0 1358.6 692.8 1419.7 693.6 1296.4 694.4 1358.6 695.2 1296.4 696.0 1234.2 696.7 1358.6 697.5 1234.2 698.3 1296.4 699.1 1234.2 699.9 1358.6 700.6 1296.4 701.4 1358.6 702.2 1296.4 704.6 1296.4 705.4 1234.2 706.1 1358.6 706.9 1234.2 707.7 1296.4 708.5 1234.2 709.3 1358.6 710.0 1296.4 712.4 1296.4 713.2 1419.7 714.0 1296.4 715.5 1296.4 716.3 1358.6 717.1 1296.4 718.7 1296.4 719.5 1358.6 720.2 1296.4 722.6 1296.4 723.4 1262.8 724.1 1358.6 724.9 1296.4 726.5 1296.4 727.3 1419.7 728.1 1296.4 728.9 1380.5 729.6 1296.4 730.4 1296.4 731.2 1419.7 732.0 1296.4 732.8 1296.4 733.5 1380.5 734.3 1296.4 735.1 1419.7 735.9 1296.4 736.7 1296.4 737.5 1358.6 738.2 1296.4 739.0 1296.4 739.8 1358.6 740.6 1296.4 741.4 1296.4 742.2 1358.6 743.0 1296.4 743.7 1296.4 744.5 1358.6 745.3 1296.4 746.1 1234.2 746.9 1234.2 747.6 1296.4 748.4 1234.2 749.2 1296.4 750.0 1234.2 750.8 1234.2 751.6 1296.4 752.4 1234.2 753.1 1296.4 753.9 1234.2 754.7 1234.2 755.5 1296.4 756.3 1234.2 757.0 1296.4 757.8 1234.2 758.6 1234.2 759.4 1296.4 760.2 1234.2 761.0 1296.4 771.1 1296.4 771.9 1234.2 772.7 1296.4 777.4 1296.4 778.2 1251.6 779.0 1296.4 779.8 1296.4 780.5 1234.2 781.3 1296.4 782.1 1296.4 782.9 1234.2 783.7 1349.7 784.5 1296.4 785.2 1349.7 786.0 1296.4 786.8 1296.4 787.6 1349.7 788.4 1296.4 789.2 1296.4 790.0 1349.7 790.7 1296.4 1150.3 1296.4" stroke="#1f77b4" stroke-width="2.083" stroke-dasharray="7.71 3.33" fill="none" stroke-linejoin="round" clip-path="url(#c4)"/>
<path d="M116.5 1296.5H518.5M519.5 1358.5h0M520.5 1296.5H521.5M522.5 1358.5h0M522.5 1296.5h0M523.5 1358.5h0M524.5 1296.5H525.5M525.5 1258.5H526.5M527.5 1358.5h0M528.5 1258.5h0M529.5 1234.5h0M529.5 1358.5h0M530.5 1234.5H531.5M532.5 1296.5h0M533.5 1234.5H533.5M534.5 1296.5h0M535.5 1358.5h0M536.5 1296.5H539.5M540.5 1234.5h0M540.5 1296.5H542.5M543.5 1234.5h0M543.5 1296.5H546.5M547.5 1358.5h0M547.5 1296.5H549.5M550.5 1358.5h0M551.5 1296.5H553.5M554.5 1358.5h0M554.5 1296.5H557.5M558.5 1258.5h0M558.5 1234.5h0M559.5 1258.5h0M560.5 1296.5h0M561.5 1258.5h0M562.5 1296.5h0M562.5 1358.5h0M563.5 1296.5H564.5M565.5 1234.5h0M565.5 1358.5h0M566.5 1296.5h0M567.5 1234.5h0M568.5 1296.5H569.5M569.5 1234.5h0M570.5 1358.5h0M571.5 1296.5h0M572.5 1234.5h0M572.5 1296.5h0M573.5 1358.5h0M574.5 1296.5H575.5M576.5 1419.5h0M576.5 1296.5h0M577.5 1358.5h0M578.5 1296.5h0M579.5 1358.5h0M580.5 1296.5H580.5M581.5 1358.5h0M582.5 1296.5H583.5M583.5 1358.5h0M584.5 1296.5h0M585.5 1358.5h0M586.5 1296.5H587.5M587.5 1358.5h0M588.5 1296.5h0M589.5 1358.5h0M590.5 1296.5H590.5M591.5 1358.5h0M592.5 1296.5H593.5M594.5 1358.5h0M594.5 1296.5h0M595.5 1358.5h0M596.5 1296.5h0M597.5 1358.5H604.5M605.5 1296.5H614.5M615.5 1358.5h0M616.5 1296.5H616.5M617.5 1358.5h0M618.5 1296.5H619.5M619.5 1358.5h0M620.5 1296.5H621.5M622.5 1358.5h0M623.5 1296.5H623.5M624.5 1358.5h0M625.5 1296.5h0M626.5 1358.5h0M627.5 1296.5H627.5M628.5 1358.5h0M629.5 1296.5H630.5M630.5 1387.5h0M631.5 1296.5H632.5M633.5 1358.5h0M634.5 1296.5H634.5M635.5 1358.5h0M636.5 1296.5h0M637.5 1271.5h0M637.5 1358.5h0M638.5 1296.5h0M639.5 1262.5h0M640.5 1358.5h0M641.5 1296.5h0M641.5 1253.5h0M642.5 1296.5h0M643.5 1397.5h0M644.5 1296.5H646.5M647.5 1358.5h0M648.5 1296.5H649.5M650.5 1358.5h0M651.5 1296.5H655.5M656.5 1358.5h0M656.5 1296.5H659.5M659.5 1358.5h0M660.5 1419.5h0M661.5 1296.5H663.5M663.5 1419.5h0M664.5 1296.5H666.5M667.5 1358.5H668.5M669.5 1296.5H670.5M671.5 1358.5h0M672.5 1296.5H673.5M674.5 1262.5h0M674.5 1296.5h0M675.5 1358.5h0M676.5 1296.5H684.5M685.5 1234.5h0M686.5 1296.5h0M687.5 1358.5h0M688.5 1234.5h0M688.5 1296.5h0M689.5 1419.5h0M690.5 1296.5h0M691.5 1458.5h0M692.5 1358.5h0M692.5 1419.5h0M693.5 1296.5h0M694.5 1358.5h0M695.5 1296.5h0M695.5 1234.5h0M696.5 1358.5h0M697.5 1234.5h0M698.5 1296.5h0M699.5 1234.5h0M699.5 1358.5h0M700.5 1296.5h0M701.5 1358.5h0M702.5 1296.5H704.5M705.5 1234.5h0M706.5 1358.5h0M706.5 1234.5h0M707.5 1296.5h0M708.5 1234.5h0M709.5 1358.5h0M710.5 1296.5H712.5M713.5 1419.5h0M713.5 1296.5H715.5M716.5 1358.5h0M717.5 1296.5H718.5M719.5 1358.5h0M720.5 1296.5H722.5M723.5 1262.5h0M724.5 1358.5h0M724.5 1296.5H726.5M727.5 1419.5h0M728.5 1296.5h0M728.5 1380.5h0M729.5 1296.5H730.5M731.5 1419.5h0M731.5 1296.5H732.5M733.5 1380.5h0M734.5 1296.5h0M735.5 1419.5h0M735.5 1296.5H736.5M737.5 1358.5h0M738.5 1296.5H739.5M739.5 1358.5h0M740.5 1296.5H741.5M742.5 1358.5h0M742.5 1296.5H743.5M744.5 1358.5h0M745.5 1296.5h0M746.5 1234.5H746.5M747.5 1296.5h0M748.5 1234.5h0M749.5 1296.5h0M750.5 1234.5H750.5M751.5 1296.5h0M752.5 1234.5h0M753.5 1296.5h0M753.5 1234.5H754.5M755.5 1296.5h0M756.5 1234.5h0M757.5 1296.5h0M757.5 1234.5H758.5M759.5 1296.5h0M760.5 1234.5h0M760.5 1296.5H771.5M771.5 1234.5h0M772.5 1296.5H777.5M778.5 1251.5h0M778.5 1296.5H779.5M780.5 1234.5h0M781.5 1296.5H782.5M782.5 1234.5h0M783.5 1349.5h0M784.5 1296.5h0M785.5 1349.5h0M786.5 1296.5H786.5M787.5 1349.5h0M788.5 1296.5H789.5M789.5 1349.5h0M790.5 1296.5H1150.5" stroke="#1f77b4" stroke-width="2.8" stroke-linecap="round" fill="none" clip-path="url(#c4)"/>
<rect x="64.5" y="1222.5" width="1138.0" height="245.0" fill="none" stroke="#000" stroke-width="1.11"/>
<path d="M115.5 1467.5v4.86M273.5 1467.5v4.86M430.5 1467.5v4.86M588.5 1467.5v4.86M745.5 1467.5v4.86M903.5 1467.5v4.86M1060.5 1467.5v4.86M64.5 1240.5h-4.86M64.5 1296.5h-4.86M64.5 1352.5h-4.86M64.5 1408.5h-4.86M64.5 1464.5h-4.86" stroke="#000" stroke-width="1.11" fill="none"/>
<text x="111.62" y="1487.90" font-size="14.1" textLength="7.96" lengthAdjust="spacingAndGlyphs" fill="#000">0</text>
<text x="260.38" y="1487.90" font-size="14.1" textLength="25.44" lengthAdjust="spacingAndGlyphs" fill="#000">200</text>
<text x="417.99" y="1487.90" font-size="14.1" textLength="25.36" lengthAdjust="spacingAndGlyphs" fill="#000">400</text>
<text x="575.42" y="1487.90" font-size="14.1" textLength="25.48" lengthAdjust="spacingAndGlyphs" fill="#000">600</text>
<text x="733.04" y="1487.90" font-size="14.1" textLength="25.39" lengthAdjust="spacingAndGlyphs" fill="#000">800</text>
<text x="886.34" y="1487.90" font-size="14.1" textLength="34.01" lengthAdjust="spacingAndGlyphs" fill="#000">1000</text>
<text x="1043.88" y="1487.90" font-size="14.1" textLength="34.01" lengthAdjust="spacingAndGlyphs" fill="#000">1200</text>
<text x="33.05" y="1246.00" font-size="14.1" textLength="20.81" lengthAdjust="spacingAndGlyphs" fill="#000">0.1</text>
<text x="33.05" y="1302.03" font-size="14.1" textLength="21.01" lengthAdjust="spacingAndGlyphs" fill="#000">0.0</text>
<text x="27.78" y="1358.06" font-size="14.1" textLength="26.08" lengthAdjust="spacingAndGlyphs" fill="#000">-0.1</text>
<text x="27.78" y="1414.09" font-size="14.1" textLength="25.97" lengthAdjust="spacingAndGlyphs" fill="#000">-0.2</text>
<text x="27.78" y="1470.12" font-size="14.1" textLength="26.18" lengthAdjust="spacingAndGlyphs" fill="#000">-0.3</text>
<text x="609.69" y="1507.80" font-size="14.1" textLength="47.81" lengthAdjust="spacingAndGlyphs" fill="#000">minute</text>
<rect x="1008.47" y="1229.64" width="187.03" height="24.55" rx="2.8" ry="2.8" fill="#fff" fill-opacity="0.8" stroke="#cccccc" stroke-width="1.0"/>
<path d="M1014.07 1240.80H1041.85" stroke="#1f77b4" stroke-width="2.083" stroke-dasharray="7.71 3.33" fill="none"/>
<circle cx="1027.96" cy="1241.40" r="1.4" fill="#1f77b4"/>
<text x="1058.23" y="1245.90" font-size="14.1" textLength="127.21" lengthAdjust="spacingAndGlyphs" fill="#000">Ws_R5_et_rate_ma</text>
<clipPath id="c5"><rect x="64.5" y="1519.5" width="1138.0" height="245.0"/></clipPath>
<path d="M115.5 1519.5V1764.5M273.5 1519.5V1764.5M430.5 1519.5V1764.5M588.5 1519.5V1764.5M745.5 1519.5V1764.5M903.5 1519.5V1764.5M1060.5 1519.5V1764.5M64.5 1552.5H1202.5M64.5 1597.5H1202.5M64.5 1641.5H1202.5M64.5 1686.5H1202.5M64.5 1731.5H1202.5" stroke="#b0b0b0" stroke-width="1.11" fill="none"/>
<path d="M116.3 1642.0L1150.3 1642.0" stroke="#1f77b4" stroke-width="2.083" stroke-dasharray="7.71 3.33" fill="none" stroke-linejoin="round" clip-path="url(#c5)"/>
<path d="M116.5 1641.5H1150.5" stroke="#1f77b4" stroke-width="2.8" stroke-linecap="round" fill="none" clip-path="url(#c5)"/>
<rect x="64.5" y="1519.5" width="1138.0" height="245.0" fill="none" stroke="#000" stroke-width="1.11"/>
<path d="M115.5 1764.5v4.86M273.5 1764.5v4.86M430.5 1764.5v4.86M588.5 1764.5v4.86M745.5 1764.5v4.86M903.5 1764.5v4.86M1060.5 1764.5v4.86M64.5 1552.5h-4.86M64.5 1597.5h-4.86M64.5 1641.5h-4.86M64.5 1686.5h-4.86M64.5 1731.5h-4.86" stroke="#000" stroke-width="1.11" fill="none"/>
<text x="111.62" y="1784.90" font-size="14.1" textLength="7.96" lengthAdjust="spacingAndGlyphs" fill="#000">0</text>
<text x="260.38" y="1784.90" font-size="14.1" textLength="25.44" lengthAdjust="spacingAndGlyphs" fill="#000">200</text>
<text x="417.99" y="1784.90" font-size="14.1" textLength="25.36" lengthAdjust="spacingAndGlyphs" fill="#000">400</text>
<text x="575.42" y="1784.90" font-size="14.1" textLength="25.48" lengthAdjust="spacingAndGlyphs" fill="#000">600</text>
<text x="733.04" y="1784.90" font-size="14.1" textLength="25.39" lengthAdjust="spacingAndGlyphs" fill="#000">800</text>
<text x="886.34" y="1784.90" font-size="14.1" textLength="34.01" lengthAdjust="spacingAndGlyphs" fill="#000">1000</text>
<text x="1043.88" y="1784.90" font-size="14.1" textLength="34.01" lengthAdjust="spacingAndGlyphs" fill="#000">1200</text>
<text x="24.39" y="1558.20" font-size="14.1" textLength="29.66" lengthAdjust="spacingAndGlyphs" fill="#000">0.04</text>
<text x="24.38" y="1602.88" font-size="14.1" textLength="29.38" lengthAdjust="spacingAndGlyphs" fill="#000">0.02</text>
<text x="24.39" y="1647.56" font-size="14.1" textLength="29.68" lengthAdjust="spacingAndGlyphs" fill="#000">0.00</text>
<text x="19.12" y="1692.24" font-size="14.1" textLength="34.68" lengthAdjust="spacingAndGlyphs" fill="#000">-0.02</text>
<text x="19.12" y="1736.92" font-size="14.1" textLength="34.96" lengthAdjust="spacingAndGlyphs" fill="#000">-0.04</text>
<text x="609.69" y="1804.80" font-size="14.1" textLength="47.81" lengthAdjust="spacingAndGlyphs" fill="#000">minute</text>
<rect x="986.60" y="1526.64" width="208.90" height="24.55" rx="2.8" ry="2.8" fill="#fff" fill-opacity="0.8" stroke="#cccccc" stroke-width="1.0"/>
<path d="M992.20 1538.10H1019.98" stroke="#1f77b4" stroke-width="2.083" stroke-dasharray="7.71 3.33" fill="none"/>
<circle cx="1006.09" cy="1538.70" r="1.4" fill="#1f77b4"/>
<text x="1036.35" y="1542.90" font-size="14.1" textLength="148.51" lengthAdjust="spacingAndGlyphs" fill="#000">Ws_R5_drain_rate_ma</text>
<clipPath id="c6"><rect x="64.5" y="1816.5" width="1138.0" height="245.0"/></clipPath>
<path d="M115.5 1816.5V2061.5M272.5 1816.5V2061.5M428.5 1816.5V2061.5M585.5 1816.5V2061.5M742.5 1816.5V2061.5M898.5 1816.5V2061.5M1055.5 1816.5V2061.5M64.5 1838.5H1202.5M64.5 1871.5H1202.5M64.5 1905.5H1202.5M64.5 1938.5H1202.5M64.5 1972.5H1202.5M64.5 2005.5H1202.5M64.5 2039.5H1202.5" stroke="#b0b0b0" stroke-width="1.11" fill="none"/>
<path d="M116.3 1938.8L521.3 1938.8 522.0 2041.8 522.8 1938.8 523.6 2050.2 524.4 1835.9 525.2 2050.2 526.0 1938.8 526.8 1835.9 527.5 2050.2 528.3 1827.4 529.1 2050.2 529.9 2050.2 530.7 1827.4 531.5 2041.8 532.2 1938.8 533.0 1827.4 533.8 2050.2 534.6 1938.8 536.1 1938.8 536.9 2050.2 537.7 1827.4 538.5 1938.8 539.3 1938.8 540.1 2050.2 540.9 1827.4 541.6 1938.8 548.7 1938.8 549.5 2050.2 550.2 1938.8 552.6 1938.8 553.4 1827.4 554.2 2050.2 555.0 1938.8 558.1 1938.8 558.9 1827.4 559.6 1938.8 560.4 1938.8 561.2 2050.2 562.0 1938.8 562.8 1827.4 563.6 1938.8 564.4 2050.2 565.1 1938.8 566.7 1938.8 567.5 1827.4 568.3 1938.8 569.0 2041.8 569.8 1938.8 570.6 1938.8 571.4 2050.2 572.2 1938.8 573.0 1827.4 573.8 1938.8 574.5 2050.2 575.3 1938.8 576.1 1938.8 576.9 2050.2 577.7 1938.8 584.7 1938.8 585.5 2050.2 586.3 1827.4 587.1 1938.8 587.9 2050.2 588.6 1827.4 589.4 1938.8 590.2 2050.2 591.0 1827.4 591.8 1938.8 592.5 2050.2 593.3 1938.8 599.6 1938.8 600.4 2050.2 601.2 1938.8 616.0 1938.8 616.8 2050.2 617.6 1938.8 618.4 1938.8 619.2 1827.4 620.0 2050.2 620.8 1938.8 626.2 1938.8 627.0 2041.8 627.8 1938.8 628.6 1938.8 629.4 1827.4 630.1 2050.2 630.9 2050.2 631.7 1938.8 632.5 1938.8 633.3 2050.2 634.1 1938.8 634.9 1827.4 635.6 2050.2 636.4 1827.4 637.2 2050.2 638.0 1938.8 638.8 1835.9 639.5 2041.8 640.3 1938.8 641.1 1827.4 641.9 2050.2 642.7 1827.4 643.5 2041.8 644.2 1938.8 645.0 2050.2 645.8 1938.8 646.6 1827.4 647.4 2050.2 648.2 1938.8 649.0 2050.2 649.7 1938.8 650.5 2041.8 651.3 1938.8 652.1 1938.8 652.9 1827.4 653.6 2050.2 654.4 2050.2 655.2 1938.8 656.0 1938.8 656.8 2050.2 657.6 1938.8 658.4 2050.2 659.1 1938.8 659.9 1938.8 660.7 2050.2 661.5 1938.8 662.3 2041.8 663.0 1827.4 663.8 1938.8 667.0 1938.8 667.8 2050.2 668.5 1938.8 670.1 1938.8 670.9 2050.2 671.7 1938.8 673.2 1938.8 674.0 2041.8 674.8 1938.8 675.6 1938.8 676.4 1827.4 677.1 2041.8 677.9 1938.8 687.3 1938.8 688.1 1835.9 688.9 2050.2 689.7 1938.8 690.5 1938.8 691.2 1827.4 692.0 2050.2 692.8 1938.8 693.6 2050.2 694.4 1827.4 695.2 1938.8 696.0 1938.8 696.7 2050.2 697.5 1938.8 700.6 1938.8 701.4 2050.2 702.2 1938.8 703.0 1938.8 703.8 1827.4 704.6 2050.2 705.4 1938.8 706.1 2050.2 706.9 1835.9 707.7 1938.8 708.5 2041.8 709.3 1938.8 710.0 1938.8 710.8 2050.2 711.6 1938.8 712.4 1938.8 713.2 2050.2 714.0 1938.8 714.8 1938.8 715.5 2050.2 716.3 1938.8 717.1 1938.8 717.9 1827.4 718.7 2050.2 719.5 1938.8 720.2 2050.2 721.0 1938.8 721.8 1938.8 722.6 2050.2 723.4 1938.8 724.1 1938.8 724.9 1827.4 725.7 2050.2 726.5 1938.8 727.3 2050.2 728.1 1938.8 728.9 1938.8 729.6 2050.2 730.4 1938.8 731.2 1938.8 732.0 2050.2 732.8 1827.4 733.5 1938.8 734.3 2050.2 735.1 1938.8 735.9 1938.8 736.7 2050.2 737.5 1938.8 741.4 1938.8 742.2 1827.4 743.0 1938.8 743.7 2050.2 744.5 1938.8 745.3 1938.8 746.1 1827.4 746.9 2041.8 747.6 1938.8 753.1 1938.8 753.9 1827.4 754.7 1938.8 755.5 1938.8 756.3 2050.2 757.0 1827.4 757.8 1938.8 772.7 1938.8 773.5 1827.4 774.3 2050.2 775.1 1938.8 775.9 2050.2 776.6 1827.4 777.4 2050.2 778.2 1938.8 779.0 1938.8 779.8 1827.4 780.5 2050.2 781.3 2050.2 782.1 1938.8 782.9 1827.4 783.7 2050.2 784.5 1938.8 785.2 1938.8 786.0 1827.4 786.8 2041.8 787.6 2050.2 788.4 1938.8 1150.3 1938.8" stroke="#1f77b4" stroke-width="2.083" stroke-dasharray="7.71 3.33" fill="none" stroke-linejoin="round" clip-path="url(#c6)"/>
<path d="M116.5 1938.5H521.5M522.5 2041.5h0M522.5 1938.5h0M523.5 2050.5h0M524.5 1835.5h0M525.5 2050.5h0M525.5 1938.5h0M526.5 1835.5h0M527.5 2050.5h0M528.5 1827.5h0M529.5 2050.5H529.5M530.5 1827.5h0M531.5 2041.5h0M532.5 1938.5h0M533.5 1827.5h0M533.5 2050.5h0M534.5 1938.5H536.5M536.5 2050.5h0M537.5 1827.5h0M538.5 1938.5H539.5M540.5 2050.5h0M540.5 1827.5h0M541.5 1938.5H548.5M549.5 2050.5h0M550.5 1938.5H552.5M553.5 1827.5h0M554.5 2050.5h0M554.5 1938.5H558.5M558.5 1827.5h0M559.5 1938.5H560.5M561.5 2050.5h0M562.5 1938.5h0M562.5 1827.5h0M563.5 1938.5h0M564.5 2050.5h0M565.5 1938.5H566.5M567.5 1827.5h0M568.5 1938.5h0M569.5 2041.5h0M569.5 1938.5H570.5M571.5 2050.5h0M572.5 1938.5h0M572.5 1827.5h0M573.5 1938.5h0M574.5 2050.5h0M575.5 1938.5H576.5M576.5 2050.5h0M577.5 1938.5H584.5M585.5 2050.5h0M586.5 1827.5h0M587.5 1938.5h0M587.5 2050.5h0M588.5 1827.5h0M589.5 1938.5h0M590.5 2050.5h0M590.5 1827.5h0M591.5 1938.5h0M592.5 2050.5h0M593.5 1938.5H599.5M600.5 2050.5h0M601.5 1938.5H616.5M616.5 2050.5h0M617.5 1938.5H618.5M619.5 1827.5h0M619.5 2050.5h0M620.5 1938.5H626.5M627.5 2041.5h0M627.5 1938.5H628.5M629.5 1827.5h0M630.5 2050.5H630.5M631.5 1938.5H632.5M633.5 2050.5h0M634.5 1938.5h0M634.5 1827.5h0M635.5 2050.5h0M636.5 1827.5h0M637.5 2050.5h0M637.5 1938.5h0M638.5 1835.5h0M639.5 2041.5h0M640.5 1938.5h0M641.5 1827.5h0M641.5 2050.5h0M642.5 1827.5h0M643.5 2041.5h0M644.5 1938.5h0M645.5 2050.5h0M645.5 1938.5h0M646.5 1827.5h0M647.5 2050.5h0M648.5 1938.5h0M648.5 2050.5h0M649.5 1938.5h0M650.5 2041.5h0M651.5 1938.5H652.5M652.5 1827.5h0M653.5 2050.5H654.5M655.5 1938.5H656.5M656.5 2050.5h0M657.5 1938.5h0M658.5 2050.5h0M659.5 1938.5H659.5M660.5 2050.5h0M661.5 1938.5h0M662.5 2041.5h0M663.5 1827.5h0M663.5 1938.5H666.5M667.5 2050.5h0M668.5 1938.5H670.5M670.5 2050.5h0M671.5 1938.5H673.5M674.5 2041.5h0M674.5 1938.5H675.5M676.5 1827.5h0M677.5 2041.5h0M677.5 1938.5H687.5M688.5 1835.5h0M688.5 2050.5h0M689.5 1938.5H690.5M691.5 1827.5h0M692.5 2050.5h0M692.5 1938.5h0M693.5 2050.5h0M694.5 1827.5h0M695.5 1938.5H695.5M696.5 2050.5h0M697.5 1938.5H700.5M701.5 2050.5h0M702.5 1938.5H703.5M703.5 1827.5h0M704.5 2050.5h0M705.5 1938.5h0M706.5 2050.5h0M706.5 1835.5h0M707.5 1938.5h0M708.5 2041.5h0M709.5 1938.5H710.5M710.5 2050.5h0M711.5 1938.5H712.5M713.5 2050.5h0M713.5 1938.5H714.5M715.5 2050.5h0M716.5 1938.5H717.5M717.5 1827.5h0M718.5 2050.5h0M719.5 1938.5h0M720.5 2050.5h0M721.5 1938.5H721.5M722.5 2050.5h0M723.5 1938.5H724.5M724.5 1827.5h0M725.5 2050.5h0M726.5 1938.5h0M727.5 2050.5h0M728.5 1938.5H728.5M729.5 2050.5h0M730.5 1938.5H731.5M731.5 2050.5h0M732.5 1827.5h0M733.5 1938.5h0M734.5 2050.5h0M735.5 1938.5H735.5M736.5 2050.5h0M737.5 1938.5H741.5M742.5 1827.5h0M742.5 1938.5h0M743.5 2050.5h0M744.5 1938.5H745.5M746.5 1827.5h0M746.5 2041.5h0M747.5 1938.5H753.5M753.5 1827.5h0M754.5 1938.5H755.5M756.5 2050.5h0M757.5 1827.5h0M757.5 1938.5H772.5M773.5 1827.5h0M774.5 2050.5h0M775.5 1938.5h0M775.5 2050.5h0M776.5 1827.5h0M777.5 2050.5h0M778.5 1938.5H778.5M779.5 1827.5h0M780.5 2050.5H781.5M782.5 1938.5h0M782.5 1827.5h0M783.5 2050.5h0M784.5 1938.5H785.5M786.5 1827.5h0M786.5 2041.5h0M787.5 2050.5h0M788.5 1938.5H1150.5" stroke="#1f77b4" stroke-width="2.8" stroke-linecap="round" fill="none" clip-path="url(#c6)"/>
<rect x="64.5" y="1816.5" width="1138.0" height="245.0" fill="none" stroke="#000" stroke-width="1.11"/>
<path d="M115.5 2061.5v4.86M272.5 2061.5v4.86M428.5 2061.5v4.86M585.5 2061.5v4.86M742.5 2061.5v4.86M898.5 2061.5v4.86M1055.5 2061.5v4.86M64.5 1838.5h-4.86M64.5 1871.5h-4.86M64.5 1905.5h-4.86M64.5 1938.5h-4.86M64.5 1972.5h-4.86M64.5 2005.5h-4.86M64.5 2039.5h-4.86" stroke="#000" stroke-width="1.11" fill="none"/>
<text x="111.62" y="2081.90" font-size="14.1" textLength="7.96" lengthAdjust="spacingAndGlyphs" fill="#000">0</text>
<text x="259.50" y="2081.90" font-size="14.1" textLength="25.44" lengthAdjust="spacingAndGlyphs" fill="#000">200</text>
<text x="416.25" y="2081.90" font-size="14.1" textLength="25.36" lengthAdjust="spacingAndGlyphs" fill="#000">400</text>
<text x="572.80" y="2081.90" font-size="14.1" textLength="25.48" lengthAdjust="spacingAndGlyphs" fill="#000">600</text>
<text x="729.55" y="2081.90" font-size="14.1" textLength="25.39" lengthAdjust="spacingAndGlyphs" fill="#000">800</text>
<text x="881.97" y="2081.90" font-size="14.1" textLength="34.01" lengthAdjust="spacingAndGlyphs" fill="#000">1000</text>
<text x="1038.64" y="2081.90" font-size="14.1" textLength="34.01" lengthAdjust="spacingAndGlyphs" fill="#000">1200</text>
<text x="24.39" y="1844.15" font-size="14.1" textLength="29.44" lengthAdjust="spacingAndGlyphs" fill="#000">0.75</text>
<text x="24.39" y="1877.57" font-size="14.1" textLength="29.68" lengthAdjust="spacingAndGlyphs" fill="#000">0.50</text>
<text x="24.39" y="1910.99" font-size="14.1" textLength="29.44" lengthAdjust="spacingAndGlyphs" fill="#000">0.25</text>
<text x="24.39" y="1944.41" font-size="14.1" textLength="29.68" lengthAdjust="spacingAndGlyphs" fill="#000">0.00</text>
<text x="19.12" y="1977.84" font-size="14.1" textLength="34.74" lengthAdjust="spacingAndGlyphs" fill="#000">-0.25</text>
<text x="19.12" y="2011.26" font-size="14.1" textLength="34.98" lengthAdjust="spacingAndGlyphs" fill="#000">-0.50</text>
<text x="19.12" y="2044.68" font-size="14.1" textLength="34.74" lengthAdjust="spacingAndGlyphs" fill="#000">-0.75</text>
<text x="609.69" y="2101.80" font-size="14.1" textLength="47.81" lengthAdjust="spacingAndGlyphs" fill="#000">minute</text>
<rect x="1046.60" y="1823.64" width="148.90" height="24.55" rx="2.8" ry="2.8" fill="#fff" fill-opacity="0.8" stroke="#cccccc" stroke-width="1.0"/>
<path d="M1052.20 1834.64H1079.98" stroke="#1f77b4" stroke-width="2.083" stroke-dasharray="7.71 3.33" fill="none"/>
<circle cx="1066.09" cy="1835.24" r="1.4" fill="#1f77b4"/>
<text x="1096.35" y="1839.90" font-size="14.1" textLength="90.71" lengthAdjust="spacingAndGlyphs" fill="#000">Ws_R5_dydt1</text>
<clipPath id="c7"><rect x="64.5" y="2113.5" width="1138.0" height="245.0"/></clipPath>
<path d="M115.5 2113.5V2358.5M272.5 2113.5V2358.5M428.5 2113.5V2358.5M585.5 2113.5V2358.5M742.5 2113.5V2358.5M898.5 2113.5V2358.5M1055.5 2113.5V2358.5M64.5 2124.5H1202.5M64.5 2161.5H1202.5M64.5 2199.5H1202.5M64.5 2237.5H1202.5M64.5 2274.5H1202.5M64.5 2312.5H1202.5M64.5 2350.5H1202.5" stroke="#b0b0b0" stroke-width="1.11" fill="none"/>
<path d="M116.3 2199.4L521.3 2199.4 522.0 2269.8 522.8 2199.4 523.6 2130.1 524.4 2274.8 525.2 2267.4 526.0 2124.1 526.8 2199.4 527.5 2274.8 528.3 2124.1 529.1 2274.8 529.9 2131.2 530.7 2268.2 531.5 2199.4 532.2 2124.1 533.0 2274.8 533.8 2199.4 534.6 2124.1 535.4 2269.8 536.1 2199.4 537.7 2199.4 538.5 2274.8 539.3 2199.4 540.1 2128.1 540.9 2199.4 548.7 2199.4 549.5 2268.4 550.2 2199.4 551.8 2199.4 552.6 2272.6 553.4 2128.2 554.2 2199.4 555.0 2199.4 555.7 2274.8 556.5 2199.4 557.3 2124.1 558.1 2199.4 560.4 2199.4 561.2 2124.1 562.0 2274.8 562.8 2199.4 563.6 2269.2 564.4 2128.5 565.1 2199.4 565.9 2268.9 566.7 2124.1 567.5 2199.4 568.3 2199.4 569.0 2269.2 569.8 2124.1 570.6 2199.4 571.4 2269.9 572.2 2199.4 573.0 2199.4 573.8 2274.8 574.5 2199.4 576.1 2199.4 576.9 2274.8 577.7 2199.4 583.9 2199.4 584.7 2269.0 585.5 2199.4 586.3 2128.2 587.1 2199.4 587.9 2271.8 588.6 2199.4 590.2 2199.4 591.0 2274.8 591.8 2199.4 599.6 2199.4 600.4 2269.5 601.2 2199.4 616.8 2199.4 617.6 2274.8 618.4 2199.4 626.2 2199.4 627.0 2269.7 627.8 2199.4 628.6 2199.4 629.4 2127.5 630.1 2269.2 630.9 2199.4 631.7 2131.5 632.5 2274.8 633.3 2274.8 634.1 2199.4 634.9 2126.8 635.6 2271.6 636.4 2199.4 637.2 2124.1 638.0 2274.8 638.8 2199.4 639.5 2199.4 640.3 2274.8 641.1 2280.4 641.9 2199.4 642.7 2271.7 643.5 2199.4 644.2 2199.4 645.0 2280.4 645.8 2274.8 646.6 2269.8 647.4 2199.4 648.2 2124.1 649.0 2199.4 650.5 2199.4 651.3 2124.1 652.1 2269.6 652.9 2199.4 653.6 2199.4 654.4 2274.8 655.2 2199.4 659.1 2199.4 659.9 2274.8 660.7 2199.4 661.5 2199.4 662.3 2342.6 663.0 2199.4 669.3 2199.4 670.1 2274.8 670.9 2199.4 672.5 2199.4 673.2 2268.6 674.0 2199.4 674.8 2199.4 675.6 2124.1 676.4 2199.4 687.3 2199.4 688.1 2124.1 688.9 2274.8 689.7 2199.4 690.5 2199.4 691.2 2124.1 692.0 2350.1 692.8 2199.4 693.6 2199.4 694.4 2124.1 695.2 2199.4 696.7 2199.4 697.5 2127.8 698.3 2199.4 700.6 2199.4 701.4 2270.7 702.2 2199.4 703.0 2199.4 703.8 2124.1 704.6 2274.8 705.4 2199.4 706.1 2127.8 706.9 2274.8 707.7 2199.4 708.5 2274.8 709.3 2199.4 710.0 2199.4 710.8 2274.8 711.6 2199.4 712.4 2199.4 713.2 2269.0 714.0 2199.4 714.8 2199.4 715.5 2271.9 716.3 2199.4 717.1 2199.4 717.9 2124.1 718.7 2274.8 719.5 2199.4 723.4 2199.4 724.1 2274.8 724.9 2199.4 725.7 2199.4 726.5 2124.1 727.3 2274.8 728.1 2199.4 728.9 2274.8 729.6 2199.4 730.4 2199.4 731.2 2274.8 732.0 2199.4 732.8 2124.1 733.5 2274.8 734.3 2199.4 735.1 2199.4 735.9 2274.8 736.7 2199.4 741.4 2199.4 742.2 2124.1 743.0 2274.8 743.7 2199.4 744.5 2199.4 745.3 2130.9 746.1 2199.4 753.1 2199.4 753.9 2124.1 754.7 2274.8 755.5 2199.4 772.7 2199.4 773.5 2130.9 774.3 2274.8 775.1 2199.4 775.9 2268.7 776.6 2126.8 777.4 2199.4 778.2 2274.8 779.0 2128.9 779.8 2270.7 780.5 2199.4 781.3 2124.1 782.1 2274.8 782.9 2199.4 783.7 2199.4 784.5 2131.3 785.2 2268.3 786.0 2271.3 786.8 2199.4 1150.3 2199.4" stroke="#1f77b4" stroke-width="2.083" stroke-dasharray="7.71 3.33" fill="none" stroke-linejoin="round" clip-path="url(#c7)"/>
<path d="M116.5 2199.5H521.5M522.5 2269.5h0M522.5 2199.5h0M523.5 2130.5h0M524.5 2274.5h0M525.5 2267.5h0M525.5 2124.5h0M526.5 2199.5h0M527.5 2274.5h0M528.5 2124.5h0M529.5 2274.5h0M529.5 2131.5h0M530.5 2268.5h0M531.5 2199.5h0M532.5 2124.5h0M533.5 2274.5h0M533.5 2199.5h0M534.5 2124.5h0M535.5 2269.5h0M536.5 2199.5H537.5M538.5 2274.5h0M539.5 2199.5h0M540.5 2128.5h0M540.5 2199.5H548.5M549.5 2268.5h0M550.5 2199.5H551.5M552.5 2272.5h0M553.5 2128.5h0M554.5 2199.5H554.5M555.5 2274.5h0M556.5 2199.5h0M557.5 2124.5h0M558.5 2199.5H560.5M561.5 2124.5h0M562.5 2274.5h0M562.5 2199.5h0M563.5 2269.5h0M564.5 2128.5h0M565.5 2199.5h0M565.5 2268.5h0M566.5 2124.5h0M567.5 2199.5H568.5M569.5 2269.5h0M569.5 2124.5h0M570.5 2199.5h0M571.5 2269.5h0M572.5 2199.5H572.5M573.5 2274.5h0M574.5 2199.5H576.5M576.5 2274.5h0M577.5 2199.5H583.5M584.5 2268.5h0M585.5 2199.5h0M586.5 2128.5h0M587.5 2199.5h0M587.5 2271.5h0M588.5 2199.5H590.5M590.5 2274.5h0M591.5 2199.5H599.5M600.5 2269.5h0M601.5 2199.5H616.5M617.5 2274.5h0M618.5 2199.5H626.5M627.5 2269.5h0M627.5 2199.5H628.5M629.5 2127.5h0M630.5 2269.5h0M630.5 2199.5h0M631.5 2131.5h0M632.5 2274.5H633.5M634.5 2199.5h0M634.5 2126.5h0M635.5 2271.5h0M636.5 2199.5h0M637.5 2124.5h0M637.5 2274.5h0M638.5 2199.5H639.5M640.5 2274.5h0M641.5 2280.5h0M641.5 2199.5h0M642.5 2271.5h0M643.5 2199.5H644.5M645.5 2280.5h0M645.5 2274.5h0M646.5 2269.5h0M647.5 2199.5h0M648.5 2124.5h0M648.5 2199.5H650.5M651.5 2124.5h0M652.5 2269.5h0M652.5 2199.5H653.5M654.5 2274.5h0M655.5 2199.5H659.5M659.5 2274.5h0M660.5 2199.5H661.5M662.5 2342.5h0M663.5 2199.5H669.5M670.5 2274.5h0M670.5 2199.5H672.5M673.5 2268.5h0M674.5 2199.5H674.5M675.5 2124.5h0M676.5 2199.5H687.5M688.5 2124.5h0M688.5 2274.5h0M689.5 2199.5H690.5M691.5 2124.5h0M692.5 2350.5h0M692.5 2199.5H693.5M694.5 2124.5h0M695.5 2199.5H696.5M697.5 2127.5h0M698.5 2199.5H700.5M701.5 2270.5h0M702.5 2199.5H703.5M703.5 2124.5h0M704.5 2274.5h0M705.5 2199.5h0M706.5 2127.5h0M706.5 2274.5h0M707.5 2199.5h0M708.5 2274.5h0M709.5 2199.5H710.5M710.5 2274.5h0M711.5 2199.5H712.5M713.5 2269.5h0M713.5 2199.5H714.5M715.5 2271.5h0M716.5 2199.5H717.5M717.5 2124.5h0M718.5 2274.5h0M719.5 2199.5H723.5M724.5 2274.5h0M724.5 2199.5H725.5M726.5 2124.5h0M727.5 2274.5h0M728.5 2199.5h0M728.5 2274.5h0M729.5 2199.5H730.5M731.5 2274.5h0M731.5 2199.5h0M732.5 2124.5h0M733.5 2274.5h0M734.5 2199.5H735.5M735.5 2274.5h0M736.5 2199.5H741.5M742.5 2124.5h0M742.5 2274.5h0M743.5 2199.5H744.5M745.5 2130.5h0M746.5 2199.5H753.5M753.5 2124.5h0M754.5 2274.5h0M755.5 2199.5H772.5M773.5 2130.5h0M774.5 2274.5h0M775.5 2199.5h0M775.5 2268.5h0M776.5 2126.5h0M777.5 2199.5h0M778.5 2274.5h0M778.5 2128.5h0M779.5 2270.5h0M780.5 2199.5h0M781.5 2124.5h0M782.5 2274.5h0M782.5 2199.5H783.5M784.5 2131.5h0M785.5 2268.5h0M786.5 2271.5h0M786.5 2199.5H1150.5" stroke="#1f77b4" stroke-width="2.8" stroke-linecap="round" fill="none" clip-path="url(#c7)"/>
<rect x="64.5" y="2113.5" width="1138.0" height="245.0" fill="none" stroke="#000" stroke-width="1.11"/>
<path d="M115.5 2358.5v4.86M272.5 2358.5v4.86M428.5 2358.5v4.86M585.5 2358.5v4.86M742.5 2358.5v4.86M898.5 2358.5v4.86M1055.5 2358.5v4.86M64.5 2124.5h-4.86M64.5 2161.5h-4.86M64.5 2199.5h-4.86M64.5 2237.5h-4.86M64.5 2274.5h-4.86M64.5 2312.5h-4.86M64.5 2350.5h-4.86" stroke="#000" stroke-width="1.11" fill="none"/>
<text x="111.62" y="2378.90" font-size="14.1" textLength="7.96" lengthAdjust="spacingAndGlyphs" fill="#000">0</text>
<text x="259.50" y="2378.90" font-size="14.1" textLength="25.44" lengthAdjust="spacingAndGlyphs" fill="#000">200</text>
<text x="416.25" y="2378.90" font-size="14.1" textLength="25.36" lengthAdjust="spacingAndGlyphs" fill="#000">400</text>
<text x="572.80" y="2378.90" font-size="14.1" textLength="25.48" lengthAdjust="spacingAndGlyphs" fill="#000">600</text>
<text x="729.55" y="2378.90" font-size="14.1" textLength="25.39" lengthAdjust="spacingAndGlyphs" fill="#000">800</text>
<text x="881.97" y="2378.90" font-size="14.1" textLength="34.01" lengthAdjust="spacingAndGlyphs" fill="#000">1000</text>
<text x="1038.64" y="2378.90" font-size="14.1" textLength="34.01" lengthAdjust="spacingAndGlyphs" fill="#000">1200</text>
<text x="33.06" y="2129.68" font-size="14.1" textLength="20.99" lengthAdjust="spacingAndGlyphs" fill="#000">0.4</text>
<text x="33.05" y="2167.35" font-size="14.1" textLength="20.70" lengthAdjust="spacingAndGlyphs" fill="#000">0.2</text>
<text x="33.05" y="2205.03" font-size="14.1" textLength="21.01" lengthAdjust="spacingAndGlyphs" fill="#000">0.0</text>
<text x="27.78" y="2242.70" font-size="14.1" textLength="25.97" lengthAdjust="spacingAndGlyphs" fill="#000">-0.2</text>
<text x="27.79" y="2280.38" font-size="14.1" textLength="26.26" lengthAdjust="spacingAndGlyphs" fill="#000">-0.4</text>
<text x="27.78" y="2318.05" font-size="14.1" textLength="26.43" lengthAdjust="spacingAndGlyphs" fill="#000">-0.6</text>
<text x="27.78" y="2355.72" font-size="14.1" textLength="26.32" lengthAdjust="spacingAndGlyphs" fill="#000">-0.8</text>
<text x="609.69" y="2398.80" font-size="14.1" textLength="47.81" lengthAdjust="spacingAndGlyphs" fill="#000">minute</text>
<rect x="1046.72" y="2120.64" width="148.78" height="24.55" rx="2.8" ry="2.8" fill="#fff" fill-opacity="0.8" stroke="#cccccc" stroke-width="1.0"/>
<path d="M1052.32 2131.64H1080.10" stroke="#1f77b4" stroke-width="2.083" stroke-dasharray="7.71 3.33" fill="none"/>
<circle cx="1066.21" cy="2132.24" r="1.4" fill="#1f77b4"/>
<text x="1096.48" y="2136.90" font-size="14.1" textLength="90.60" lengthAdjust="spacingAndGlyphs" fill="#000">Ws_R5_dydt2</text>
</svg></body></html>
